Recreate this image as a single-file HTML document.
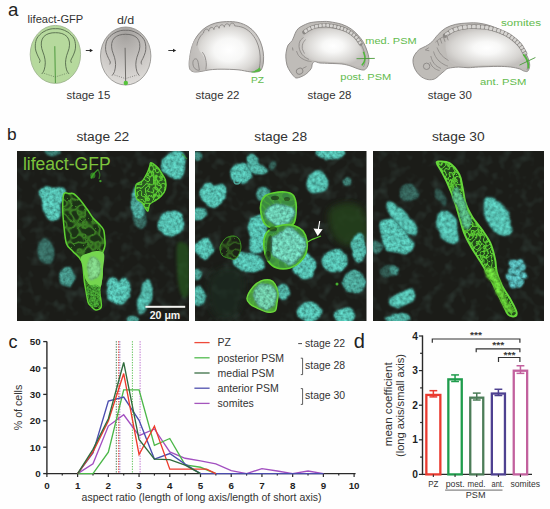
<!DOCTYPE html>
<html><head><meta charset="utf-8"><title>figure</title>
<style>html,body{margin:0;padding:0;background:#fefefe;width:550px;height:509px;overflow:hidden;font-family:"Liberation Sans", sans-serif;}svg{display:block;}</style>
</head><body>
<svg width="550" height="509" viewBox="0 0 550 509" font-family='"Liberation Sans", sans-serif'>
<defs>
<radialGradient id="gdd" cx="0.5" cy="0.12" r="0.95">
  <stop offset="0" stop-color="#a3a09d"/><stop offset="0.3" stop-color="#b8b5b2"/><stop offset="0.65" stop-color="#cfccc9"/><stop offset="1" stop-color="#e4e2df"/>
</radialGradient>
<radialGradient id="g22" cx="0.55" cy="0.5" r="0.55">
  <stop offset="0" stop-color="#ffffff"/><stop offset="0.35" stop-color="#f4f3f2"/><stop offset="1" stop-color="#c3c1bf"/>
</radialGradient>
<radialGradient id="g28" cx="0.55" cy="0.55" r="0.55">
  <stop offset="0" stop-color="#ffffff"/><stop offset="0.3" stop-color="#f2f1f0"/><stop offset="1" stop-color="#c6c4c2"/>
</radialGradient>
<filter id="bl1" x="-20%" y="-20%" width="140%" height="140%"><feGaussianBlur stdDeviation="0.7"/></filter>
<filter id="bl2" x="-20%" y="-20%" width="140%" height="140%"><feGaussianBlur stdDeviation="1.4"/></filter>
<filter id="bl3" x="-30%" y="-30%" width="160%" height="160%"><feGaussianBlur stdDeviation="3"/></filter>

<radialGradient id="y22" gradientUnits="userSpaceOnUse" cx="229" cy="50" r="37" gradientTransform="translate(229 50) scale(1 0.78) translate(-229 -50)">
  <stop offset="0" stop-color="#ffffff"/><stop offset="0.4" stop-color="#f7f7f6"/><stop offset="0.78" stop-color="#d9d7d4"/><stop offset="1" stop-color="#bdbab7"/>
</radialGradient>
<radialGradient id="y28" gradientUnits="userSpaceOnUse" cx="333" cy="46" r="34" gradientTransform="translate(333 46) scale(1 0.62) translate(-333 -46)">
  <stop offset="0" stop-color="#ffffff"/><stop offset="0.3" stop-color="#f8f8f7"/><stop offset="0.8" stop-color="#d6d4d1"/><stop offset="1" stop-color="#c3c0bd"/>
</radialGradient>
<radialGradient id="y30" gradientUnits="userSpaceOnUse" cx="487" cy="48" r="44" gradientTransform="translate(487 48) scale(1 0.48) translate(-487 -48)">
  <stop offset="0" stop-color="#ffffff"/><stop offset="0.3" stop-color="#f8f8f7"/><stop offset="0.8" stop-color="#d6d4d1"/><stop offset="1" stop-color="#c3c0bd"/>
</radialGradient>

<filter id="tex" x="-30%" y="-30%" width="160%" height="160%">
 <feTurbulence type="fractalNoise" baseFrequency="0.08" numOctaves="2" seed="3" result="w"/>
 <feDisplacementMap in="SourceGraphic" in2="w" scale="6" xChannelSelector="R" yChannelSelector="G" result="d"/>
 <feGaussianBlur in="d" stdDeviation="0.8" result="b"/>
 <feTurbulence type="fractalNoise" baseFrequency="0.3" numOctaves="2" seed="7" result="n"/>
 <feColorMatrix in="n" type="matrix" values="1 0 0 0 0  1 0 0 0 0  1 0 0 0 0  0 0 0 0 1" result="g"/>
 <feComposite in="b" in2="g" operator="arithmetic" k1="1.5" k2="0.22" k3="0" k4="0"/>
</filter>
<filter id="texg" x="-30%" y="-30%" width="160%" height="160%">
 <feTurbulence type="fractalNoise" baseFrequency="0.55" numOctaves="2" seed="11" result="n"/>
 <feColorMatrix in="n" type="matrix" values="2.2 0 0 0 -0.55  2.2 0 0 0 -0.55  2.2 0 0 0 -0.55  0 0 0 0 1" result="g"/>
 <feGaussianBlur in="SourceGraphic" stdDeviation="0.6" result="b"/>
 <feComposite in="b" in2="g" operator="arithmetic" k1="1.0" k2="0.25" k3="0" k4="0"/>
</filter>
<filter id="bgn" x="0" y="0" width="100%" height="100%">
 <feTurbulence type="fractalNoise" baseFrequency="0.09" numOctaves="2" seed="21" result="n"/>
 <feColorMatrix in="n" type="matrix" values="0 0 0 0 0.18  0 0 0 0 0.42  0 0 0 0 0.36  2.6 0 0 0 -1.25"/>
</filter>
<filter id="mesh" x="-10%" y="-10%" width="120%" height="120%">
 <feTurbulence type="turbulence" baseFrequency="0.14" numOctaves="1" seed="5" result="n"/>
 <feColorMatrix in="n" type="matrix" values="0 0 0 0 0  0 0 0 0 0  0 0 0 0 0  1 0 0 0 0" result="a"/>
 <feComponentTransfer in="a" result="v"><feFuncA type="table" tableValues="1 0.75 0.25 0 0 0 0 0 0 0 0 0"/></feComponentTransfer>
 <feFlood flood-color="#5ccc34" result="f"/>
 <feComposite in="f" in2="v" operator="in" result="fv"/>
 <feComposite in="fv" in2="SourceGraphic" operator="in" result="m"/>
 <feGaussianBlur in="m" stdDeviation="0.6"/>
</filter>
<filter id="mesh2" x="-10%" y="-10%" width="120%" height="120%">
 <feTurbulence type="turbulence" baseFrequency="0.26" numOctaves="1" seed="9" result="n"/>
 <feColorMatrix in="n" type="matrix" values="0 0 0 0 0  0 0 0 0 0  0 0 0 0 0  1 0 0 0 0" result="a"/>
 <feComponentTransfer in="a" result="v"><feFuncA type="table" tableValues="1 0.75 0.25 0 0 0 0 0 0 0 0 0"/></feComponentTransfer>
 <feFlood flood-color="#5ccc34" result="f"/>
 <feComposite in="f" in2="v" operator="in" result="fv"/>
 <feComposite in="fv" in2="SourceGraphic" operator="in" result="m"/>
 <feGaussianBlur in="m" stdDeviation="0.45"/>
</filter>
<clipPath id="cp0"><rect x="17" y="151" width="172" height="170"/></clipPath><clipPath id="cp1"><rect x="195" y="151" width="171.5" height="170"/></clipPath><clipPath id="cp2"><rect x="373" y="151" width="171" height="170"/></clipPath></defs>
<rect width="550" height="509" fill="#fefefe"/>
<text x="8.0" y="16.3" font-size="18.7" fill="#222" text-anchor="start" font-weight="normal" >a</text>
<text x="7.0" y="140.1" font-size="17.3" fill="#222" text-anchor="start" font-weight="normal" >b</text>
<text x="8.6" y="347.6" font-size="18" fill="#222" text-anchor="start" font-weight="normal" >c</text>
<text x="353.8" y="347.7" font-size="20" fill="#222" text-anchor="start" font-weight="normal" >d</text>
<ellipse cx="55.4" cy="54.4" rx="25.2" ry="29" fill="#b6d99d" stroke="#9ab08c" stroke-width="0.8"/>
<path d="M39.40,62.80 C39.50,62.40 40.18,61.38 40.00,60.40 C39.82,59.42 38.98,58.47 38.30,56.90 C37.62,55.33 36.40,52.97 35.90,51.00 C35.40,49.03 35.10,47.27 35.30,45.10 C35.50,42.93 35.82,40.17 37.10,38.00 C38.38,35.83 40.85,33.58 43.00,32.10 C45.15,30.62 47.93,29.67 50.00,29.10 C52.07,28.53 53.60,28.70 55.40,28.70 C57.20,28.70 58.73,28.53 60.80,29.10 C62.87,29.67 65.65,30.62 67.80,32.10 C69.95,33.58 72.42,35.83 73.70,38.00 C74.98,40.17 75.30,42.93 75.50,45.10 C75.70,47.27 75.40,49.03 74.90,51.00 C74.40,52.97 73.18,55.33 72.50,56.90 C71.82,58.47 70.98,59.42 70.80,60.40 C70.62,61.38 71.30,62.40 71.40,62.80" fill="none" stroke="#5a7050" stroke-width="0.95"/>
<path d="M41.80,74.00 C42.20,73.32 43.62,71.77 44.20,69.90 C44.78,68.03 45.30,65.17 45.30,62.80 C45.30,60.43 44.78,58.07 44.20,55.70 C43.62,53.33 42.27,50.88 41.80,48.60 C41.33,46.32 41.07,44.00 41.40,42.00 C41.73,40.00 42.53,38.02 43.80,36.60 C45.07,35.18 47.07,34.15 49.00,33.50 C50.93,32.85 53.27,32.70 55.40,32.70 C57.53,32.70 59.87,32.85 61.80,33.50 C63.73,34.15 65.73,35.18 67.00,36.60 C68.27,38.02 69.07,40.00 69.40,42.00 C69.73,44.00 69.47,46.32 69.00,48.60 C68.53,50.88 67.18,53.33 66.60,55.70 C66.02,58.07 65.50,60.43 65.50,62.80 C65.50,65.17 66.02,68.03 66.60,69.90 C67.18,71.77 68.60,73.32 69.00,74.00" fill="none" stroke="#5a7050" stroke-width="0.95"/>
<line x1="54.8" y1="46.2" x2="55.4" y2="83.0" stroke="#4e9a3e" stroke-width="1.0"/>
<polyline points="44.2,73.4 55.2,77.0 66.6,73.4" fill="none" stroke="#5a7050" stroke-width="0.7" stroke-dasharray="1 1.3"/>
<g>
<ellipse cx="125.7" cy="56.0" rx="25.2" ry="29" fill="url(#gdd)" stroke="#8d8b88" stroke-width="0.8"/>
<path d="M109.70,64.40 C109.80,64.00 110.48,62.98 110.30,62.00 C110.12,61.02 109.28,60.07 108.60,58.50 C107.92,56.93 106.70,54.57 106.20,52.60 C105.70,50.63 105.40,48.87 105.60,46.70 C105.80,44.53 106.12,41.77 107.40,39.60 C108.68,37.43 111.15,35.18 113.30,33.70 C115.45,32.22 118.23,31.27 120.30,30.70 C122.37,30.13 123.90,30.30 125.70,30.30 C127.50,30.30 129.03,30.13 131.10,30.70 C133.17,31.27 135.95,32.22 138.10,33.70 C140.25,35.18 142.72,37.43 144.00,39.60 C145.28,41.77 145.60,44.53 145.80,46.70 C146.00,48.87 145.70,50.63 145.20,52.60 C144.70,54.57 143.48,56.93 142.80,58.50 C142.12,60.07 141.28,61.02 141.10,62.00 C140.92,62.98 141.60,64.00 141.70,64.40" fill="none" stroke="#6e6c69" stroke-width="0.95"/>
<path d="M112.10,75.60 C112.50,74.92 113.92,73.37 114.50,71.50 C115.08,69.63 115.60,66.77 115.60,64.40 C115.60,62.03 115.08,59.67 114.50,57.30 C113.92,54.93 112.57,52.48 112.10,50.20 C111.63,47.92 111.37,45.60 111.70,43.60 C112.03,41.60 112.83,39.62 114.10,38.20 C115.37,36.78 117.37,35.75 119.30,35.10 C121.23,34.45 123.57,34.30 125.70,34.30 C127.83,34.30 130.17,34.45 132.10,35.10 C134.03,35.75 136.03,36.78 137.30,38.20 C138.57,39.62 139.37,41.60 139.70,43.60 C140.03,45.60 139.77,47.92 139.30,50.20 C138.83,52.48 137.48,54.93 136.90,57.30 C136.32,59.67 135.80,62.03 135.80,64.40 C135.80,66.77 136.32,69.63 136.90,71.50 C137.48,73.37 138.90,74.92 139.30,75.60" fill="none" stroke="#6e6c69" stroke-width="0.95"/>
<line x1="125.1" y1="47.800000000000004" x2="125.7" y2="84.6" stroke="#6e6c69" stroke-width="1.0"/>
<polyline points="114.5,75.0 125.5,78.6 136.9,75.0" fill="none" stroke="#6e6c69" stroke-width="0.7" stroke-dasharray="1 1.3"/>
</g>
<circle cx="125.8" cy="83" r="2.2" fill="#56c23c"/>
<line x1="85.8" y1="50.5" x2="90.5" y2="50.5" stroke="#222" stroke-width="0.9"/>
<path d="M93,50.5 L89.8,48.7 L89.8,52.3 Z" fill="#222"/>
<line x1="168.3" y1="50.5" x2="173.7" y2="50.5" stroke="#222" stroke-width="0.9"/>
<path d="M176.2,50.5 L173.0,48.7 L173.0,52.3 Z" fill="#222"/>
<path d="M190.20,69.80 C189.28,68.52 189.18,66.33 189.10,64.30 C189.02,62.27 189.33,60.18 189.70,57.60 C190.07,55.02 190.48,51.73 191.30,48.80 C192.12,45.87 193.13,42.75 194.60,40.00 C196.07,37.25 198.08,34.50 200.10,32.30 C202.12,30.10 204.13,28.35 206.70,26.80 C209.27,25.25 212.20,23.87 215.50,23.00 C218.80,22.13 222.75,21.70 226.50,21.60 C230.25,21.50 234.42,21.58 238.00,22.40 C241.58,23.22 245.08,24.68 248.00,26.50 C250.92,28.32 253.42,30.72 255.50,33.30 C257.58,35.88 259.22,38.88 260.50,42.00 C261.78,45.12 262.70,48.83 263.20,52.00 C263.70,55.17 263.65,58.42 263.50,61.00 C263.35,63.58 263.05,65.75 262.30,67.50 C261.55,69.25 261.05,70.78 259.00,71.50 C256.95,72.22 253.50,72.08 250.00,71.80 C246.50,71.52 242.83,70.23 238.00,69.80 C233.17,69.37 225.67,69.20 221.00,69.20 C216.33,69.20 213.30,69.43 210.00,69.80 C206.70,70.17 203.77,71.03 201.20,71.40 C198.63,71.77 196.43,72.27 194.60,72.00 C192.77,71.73 191.12,71.08 190.20,69.80 Z" fill="url(#y22)" stroke="#8a8784" stroke-width="0.9"/>
<path d="M191.3,48.8 C192,44 194,40 196.5,38 C197,43 197.8,47 199.5,51 C202.5,54 205,58 205.6,62 C206,66 206.2,68.7 206,70 C201,71.2 196,72 194.6,72 C191.5,71.4 190.2,69.8 189.1,64.3 C189,59 190,53 191.3,48.8 Z" fill="#c2bfbc" opacity="0.7" filter="url(#bl1)"/>
<path d="M196.80,45.50 C197.03,44.67 197.57,42.08 198.20,40.50 C198.83,38.92 199.72,37.25 200.60,36.00 C201.48,34.75 203.02,33.50 203.50,33.00" fill="none" stroke="#8a8784" stroke-width="0.9"/>
<path d="M203.5,33.0 C203.80,28.20 208.40,28.20 208.70,31.20 C209.00,26.50 213.60,26.50 213.90,29.60 C214.20,25.05 218.80,25.05 219.10,28.30 C219.40,23.85 224.00,23.85 224.30,27.20 C224.60,22.85 229.20,22.85 229.50,26.30 C229.80,22.15 234.40,22.15 234.70,25.80" fill="none" stroke="#8a8784" stroke-width="0.9"/>
<path d="M234.70,25.80 C236.08,26.08 240.37,26.38 243.00,27.50 C245.63,28.62 248.25,30.25 250.50,32.50 C252.75,34.75 254.98,37.92 256.50,41.00 C258.02,44.08 258.98,47.67 259.60,51.00 C260.22,54.33 260.30,57.92 260.20,61.00 C260.10,64.08 259.20,68.08 259.00,69.50" fill="none" stroke="#8a8784" stroke-width="0.9"/>
<path d="M202.30,52.10 C202.68,52.72 204.00,54.40 204.60,55.80 C205.20,57.20 205.62,58.97 205.90,60.50 C206.18,62.03 206.32,63.50 206.30,65.00 C206.28,66.50 205.88,68.75 205.80,69.50" fill="none" stroke="#8a8784" stroke-width="0.9"/>
<path d="M199.4,70.2 C196.5,70.6 193.2,68.3 192.9,63.6 C192.7,60 194.6,58.3 196.4,59 C198.2,59.8 198.3,64 199.4,70.2 Z" fill="none" stroke="#8a8784" stroke-width="0.9"/>
<path d="M251.5,71.7 Q256.8,70.6 259.7,67.2 L261.2,70.6 Q257.5,72.6 251.5,72.4 Z" fill="#58b844"/>
<path d="M297.00,78.00 C295.03,78.20 294.58,76.95 293.40,75.80 C292.22,74.65 290.97,72.87 289.90,71.10 C288.83,69.33 287.68,67.57 287.00,65.20 C286.32,62.83 285.90,59.27 285.80,56.90 C285.70,54.53 286.02,52.97 286.40,51.00 C286.78,49.03 287.12,46.87 288.10,45.10 C289.08,43.33 291.12,42.37 292.30,40.40 C293.48,38.43 294.22,35.27 295.20,33.30 C296.18,31.33 296.73,29.97 298.20,28.60 C299.67,27.23 301.85,26.12 304.00,25.10 C306.15,24.08 307.95,23.10 311.10,22.50 C314.25,21.90 319.75,21.62 322.90,21.50 C326.05,21.38 326.85,21.33 330.00,21.80 C333.15,22.27 338.27,23.10 341.80,24.30 C345.33,25.50 348.45,27.13 351.20,29.00 C353.95,30.87 356.23,33.23 358.30,35.50 C360.37,37.77 362.13,40.02 363.60,42.60 C365.07,45.18 366.22,48.42 367.10,51.00 C367.98,53.58 368.70,55.83 368.90,58.10 C369.10,60.37 368.88,62.73 368.30,64.60 C367.72,66.47 366.48,68.42 365.40,69.30 C364.32,70.18 363.38,70.10 361.80,69.90 C360.22,69.70 357.87,68.78 355.90,68.10 C353.93,67.42 352.35,66.48 350.00,65.80 C347.65,65.12 345.13,64.40 341.80,64.00 C338.47,63.60 333.63,63.57 330.00,63.40 C326.37,63.23 322.55,63.30 320.00,63.00 C317.45,62.70 315.98,61.43 314.70,61.60 C313.42,61.77 312.90,62.82 312.30,64.00 C311.70,65.18 312.28,66.93 311.10,68.70 C309.92,70.47 307.55,73.05 305.20,74.60 C302.85,76.15 298.97,77.80 297.00,78.00 Z" fill="#bfbcb8" stroke="#8a8784" stroke-width="0.9"/>
<path d="M301.50,39.00 C302.50,37.50 304.08,35.00 306.00,33.50 C307.92,32.00 310.17,30.82 313.00,30.00 C315.83,29.18 319.50,28.77 323.00,28.60 C326.50,28.43 330.33,28.43 334.00,29.00 C337.67,29.57 341.83,30.67 345.00,32.00 C348.17,33.33 350.83,35.17 353.00,37.00 C355.17,38.83 356.58,41.00 358.00,43.00 C359.42,45.00 360.50,46.83 361.50,49.00 C362.50,51.17 363.67,53.58 364.00,56.00 C364.33,58.42 364.50,61.78 363.50,63.50 C362.50,65.22 360.25,66.17 358.00,66.30 C355.75,66.43 352.83,64.92 350.00,64.30 C347.17,63.68 344.33,62.98 341.00,62.60 C337.67,62.22 333.83,62.22 330.00,62.00 C326.17,61.78 321.33,61.75 318.00,61.30 C314.67,60.85 312.42,60.35 310.00,59.30 C307.58,58.25 305.17,56.80 303.50,55.00 C301.83,53.20 300.58,50.58 300.00,48.50 C299.42,46.42 299.75,44.08 300.00,42.50 C300.25,40.92 300.50,40.50 301.50,39.00 Z" fill="url(#y28)" filter="url(#bl1)"/>
<path d="M304.20,32.20 C305.05,31.63 307.30,29.78 309.30,28.80 C311.30,27.82 313.35,26.88 316.20,26.30 C319.05,25.72 322.98,25.20 326.40,25.30 C329.82,25.40 333.28,26.05 336.70,26.90 C340.12,27.75 343.77,28.80 346.90,30.40 C350.03,32.00 353.22,34.32 355.50,36.50 C357.78,38.68 359.75,42.33 360.60,43.50" fill="none" stroke="#8a8784" stroke-width="4.2" stroke-linecap="round"/>
<rect x="304.17" y="29.52" width="3.30" height="3.00" rx="0.9" fill="#d6d4d1" transform="rotate(-36.3 305.82 31.02)"/>
<rect x="307.53" y="27.37" width="3.25" height="3.00" rx="0.9" fill="#d6d4d1" transform="rotate(-27.5 309.16 28.87)"/>
<rect x="311.14" y="25.78" width="3.20" height="3.00" rx="0.9" fill="#d6d4d1" transform="rotate(-20.3 312.74 27.28)"/>
<rect x="314.90" y="24.75" width="3.15" height="3.00" rx="0.9" fill="#d6d4d1" transform="rotate(-11.1 316.47 26.25)"/>
<rect x="318.70" y="24.14" width="3.10" height="3.00" rx="0.9" fill="#d6d4d1" transform="rotate(-6.6 320.25 25.64)"/>
<rect x="322.49" y="23.82" width="3.06" height="3.00" rx="0.9" fill="#d6d4d1" transform="rotate(-2.1 324.02 25.32)"/>
<rect x="326.25" y="23.87" width="3.01" height="3.00" rx="0.9" fill="#d6d4d1" transform="rotate(3.9 327.75 25.37)"/>
<rect x="329.93" y="24.30" width="2.96" height="3.00" rx="0.9" fill="#d6d4d1" transform="rotate(8.8 331.41 25.80)"/>
<rect x="333.53" y="24.99" width="2.92" height="3.00" rx="0.9" fill="#d6d4d1" transform="rotate(12.3 334.99 26.49)"/>
<rect x="337.04" y="25.86" width="2.87" height="3.00" rx="0.9" fill="#d6d4d1" transform="rotate(15.2 338.48 27.36)"/>
<rect x="340.47" y="26.86" width="2.83" height="3.00" rx="0.9" fill="#d6d4d1" transform="rotate(17.7 341.88 28.36)"/>
<rect x="343.77" y="28.09" width="2.79" height="3.00" rx="0.9" fill="#d6d4d1" transform="rotate(22.7 345.17 29.59)"/>
<rect x="346.89" y="29.64" width="2.74" height="3.00" rx="0.9" fill="#d6d4d1" transform="rotate(29.4 348.26 31.14)"/>
<rect x="349.80" y="31.47" width="2.70" height="3.00" rx="0.9" fill="#d6d4d1" transform="rotate(34.9 351.15 32.97)"/>
<rect x="352.51" y="33.52" width="2.66" height="3.00" rx="0.9" fill="#d6d4d1" transform="rotate(40.1 353.83 35.02)"/>
<rect x="354.96" y="35.80" width="2.61" height="3.00" rx="0.9" fill="#d6d4d1" transform="rotate(48.6 356.26 37.30)"/>
<rect x="356.98" y="38.41" width="2.57" height="3.00" rx="0.9" fill="#d6d4d1" transform="rotate(55.9 358.27 39.91)"/>
<rect x="358.77" y="41.14" width="2.53" height="3.00" rx="0.9" fill="#d6d4d1" transform="rotate(57.7 360.03 42.64)"/>
<path d="M360.60,43.50 C361.03,44.42 362.50,47.08 363.20,49.00 C363.90,50.92 364.50,52.83 364.80,55.00 C365.10,57.17 365.22,60.00 365.00,62.00 C364.78,64.00 363.75,66.17 363.50,67.00" fill="none" stroke="#8a8784" stroke-width="0.8"/>
<path d="M303.50,37.50 C302.92,38.08 300.75,39.50 300.00,41.00 C299.25,42.50 298.92,44.67 299.00,46.50 C299.08,48.33 299.67,50.33 300.50,52.00 C301.33,53.67 302.58,55.25 304.00,56.50 C305.42,57.75 308.17,59.00 309.00,59.50" fill="none" stroke="#8a8784" stroke-width="0.8"/>
<path d="M305.50,39.50 C305.05,40.17 303.33,42.00 302.80,43.50 C302.27,45.00 302.02,46.83 302.30,48.50 C302.58,50.17 304.13,52.67 304.50,53.50" fill="none" stroke="#8a8784" stroke-width="0.8"/>
<path d="M296.50,51.00 C296.83,51.75 297.58,54.25 298.50,55.50 C299.42,56.75 300.58,57.62 302.00,58.50 C303.42,59.38 305.42,60.30 307.00,60.80 C308.58,61.30 310.75,61.38 311.50,61.50" fill="none" stroke="#8a8784" stroke-width="0.8"/>
<ellipse cx="299.6" cy="71.2" rx="3.3" ry="2.9" fill="none" stroke="#8a8784" stroke-width="0.9" transform="rotate(-25 299.6 71.2)"/>
<path d="M302.5,68.5 L306.5,66.5" stroke="#8a8784" stroke-width="0.8"/>
<line x1="292.5" y1="47.5" x2="293" y2="50.5" stroke="#8a8784" stroke-width="0.9"/>
<path d="M363.40,51.80 C363.65,52.65 364.75,55.28 364.90,56.90 C365.05,58.52 364.82,60.08 364.30,61.50 C363.78,62.92 362.22,64.75 361.80,65.40" fill="none" stroke="#4fb83a" stroke-width="1.5"/>
<line x1="356.5" y1="58.7" x2="374.8" y2="58.4" stroke="#4a9a3a" stroke-width="0.9"/>
<path d="M468.00,23.00 C471.82,22.80 474.78,22.58 478.70,23.10 C482.62,23.62 487.25,24.65 491.50,26.10 C495.75,27.55 500.38,29.58 504.20,31.80 C508.02,34.02 511.43,36.65 514.40,39.40 C517.37,42.15 519.88,45.53 522.00,48.30 C524.12,51.07 525.83,53.42 527.10,56.00 C528.37,58.58 529.28,61.65 529.60,63.80 C529.92,65.95 529.42,67.62 529.00,68.90 C528.58,70.18 528.05,71.18 527.10,71.50 C526.15,71.82 524.57,71.23 523.30,70.80 C522.03,70.37 521.63,69.53 519.50,68.90 C517.37,68.27 514.12,67.42 510.50,67.00 C506.88,66.58 503.10,66.40 497.80,66.40 C492.50,66.40 483.67,66.78 478.70,67.00 C473.73,67.22 471.40,67.68 468.00,67.70 C464.60,67.72 461.58,67.00 458.30,67.10 C455.02,67.20 450.60,67.68 448.30,68.30 C446.00,68.92 445.98,69.65 444.50,70.80 C443.02,71.95 441.08,73.83 439.40,75.20 C437.72,76.57 436.28,78.27 434.40,79.00 C432.52,79.73 430.20,79.92 428.10,79.60 C426.00,79.28 423.68,78.35 421.80,77.10 C419.92,75.85 418.15,73.98 416.80,72.10 C415.45,70.22 414.33,67.90 413.70,65.80 C413.07,63.70 412.80,61.38 413.00,59.50 C413.20,57.62 413.85,56.18 414.90,54.50 C415.95,52.82 417.52,50.77 419.30,49.40 C421.08,48.03 423.50,47.55 425.60,46.30 C427.70,45.05 429.80,43.88 431.90,41.90 C434.00,39.92 435.90,36.70 438.20,34.40 C440.50,32.10 442.77,29.78 445.70,28.10 C448.63,26.42 452.08,25.15 455.80,24.30 C459.52,23.45 464.18,23.20 468.00,23.00 Z" fill="#bfbcb8" stroke="#8a8784" stroke-width="0.9"/>
<path d="M447.00,38.50 C448.42,36.42 450.83,34.03 454.00,32.50 C457.17,30.97 461.33,29.83 466.00,29.30 C470.67,28.77 476.83,28.77 482.00,29.30 C487.17,29.83 492.50,30.97 497.00,32.50 C501.50,34.03 505.58,36.25 509.00,38.50 C512.42,40.75 515.17,43.42 517.50,46.00 C519.83,48.58 521.58,51.67 523.00,54.00 C524.42,56.33 525.42,57.83 526.00,60.00 C526.58,62.17 527.50,65.75 526.50,67.00 C525.50,68.25 522.75,67.67 520.00,67.50 C517.25,67.33 513.83,66.37 510.00,66.00 C506.17,65.63 502.17,65.33 497.00,65.30 C491.83,65.27 484.17,65.62 479.00,65.80 C473.83,65.98 469.83,66.45 466.00,66.40 C462.17,66.35 458.83,66.40 456.00,65.50 C453.17,64.60 450.58,63.08 449.00,61.00 C447.42,58.92 447.08,55.67 446.50,53.00 C445.92,50.33 445.42,47.42 445.50,45.00 C445.58,42.58 445.58,40.58 447.00,38.50 Z" fill="url(#y30)" filter="url(#bl1)"/>
<path d="M445.20,35.50 C446.75,34.52 450.62,31.05 454.50,29.60 C458.38,28.15 463.45,27.18 468.50,26.80 C473.55,26.42 479.75,26.63 484.80,27.30 C489.85,27.97 494.53,29.25 498.80,30.80 C503.07,32.35 506.92,34.27 510.40,36.60 C513.88,38.93 517.27,41.98 519.70,44.80 C522.13,47.62 524.12,52.05 525.00,53.50" fill="none" stroke="#8a8784" stroke-width="4.6" stroke-linecap="round"/>
<rect x="445.07" y="32.32" width="4.30" height="3.40" rx="0.9" fill="#d6d4d1" transform="rotate(-37.1 447.22 34.02)"/>
<rect x="449.18" y="29.50" width="4.20" height="3.40" rx="0.9" fill="#d6d4d1" transform="rotate(-31.4 451.28 31.20)"/>
<rect x="453.63" y="27.49" width="4.11" height="3.40" rx="0.9" fill="#d6d4d1" transform="rotate(-17.7 455.68 29.19)"/>
<rect x="458.28" y="26.26" width="4.01" height="3.40" rx="0.9" fill="#d6d4d1" transform="rotate(-11.8 460.28 27.96)"/>
<rect x="462.92" y="25.48" width="3.92" height="3.40" rx="0.9" fill="#d6d4d1" transform="rotate(-7.1 464.88 27.18)"/>
<rect x="467.52" y="25.04" width="3.83" height="3.40" rx="0.9" fill="#d6d4d1" transform="rotate(-3.7 469.43 26.74)"/>
<rect x="472.04" y="24.91" width="3.74" height="3.40" rx="0.9" fill="#d6d4d1" transform="rotate(0.5 473.91 26.61)"/>
<rect x="476.48" y="25.03" width="3.65" height="3.40" rx="0.9" fill="#d6d4d1" transform="rotate(3.2 478.31 26.73)"/>
<rect x="480.82" y="25.35" width="3.57" height="3.40" rx="0.9" fill="#d6d4d1" transform="rotate(5.9 482.60 27.05)"/>
<rect x="485.05" y="25.90" width="3.48" height="3.40" rx="0.9" fill="#d6d4d1" transform="rotate(9.3 486.79 27.60)"/>
<rect x="489.15" y="26.71" width="3.40" height="3.40" rx="0.9" fill="#d6d4d1" transform="rotate(12.8 490.85 28.41)"/>
<rect x="493.12" y="27.77" width="3.32" height="3.40" rx="0.9" fill="#d6d4d1" transform="rotate(16.8 494.78 29.47)"/>
<rect x="496.94" y="29.01" width="3.24" height="3.40" rx="0.9" fill="#d6d4d1" transform="rotate(19.5 498.56 30.71)"/>
<rect x="500.60" y="30.45" width="3.17" height="3.40" rx="0.9" fill="#d6d4d1" transform="rotate(23.7 502.19 32.15)"/>
<rect x="504.10" y="32.09" width="3.09" height="3.40" rx="0.9" fill="#d6d4d1" transform="rotate(27.1 505.64 33.79)"/>
<rect x="507.40" y="33.94" width="3.02" height="3.40" rx="0.9" fill="#d6d4d1" transform="rotate(31.9 508.91 35.64)"/>
<rect x="510.48" y="36.00" width="2.94" height="3.40" rx="0.9" fill="#d6d4d1" transform="rotate(35.9 511.96 37.70)"/>
<rect x="513.34" y="38.24" width="2.87" height="3.40" rx="0.9" fill="#d6d4d1" transform="rotate(41.0 514.78 39.94)"/>
<rect x="515.98" y="40.63" width="2.80" height="3.40" rx="0.9" fill="#d6d4d1" transform="rotate(44.6 517.38 42.33)"/>
<rect x="518.38" y="43.16" width="2.73" height="3.40" rx="0.9" fill="#d6d4d1" transform="rotate(50.8 519.75 44.86)"/>
<rect x="520.40" y="45.92" width="2.66" height="3.40" rx="0.9" fill="#d6d4d1" transform="rotate(57.9 521.73 47.62)"/>
<rect x="522.09" y="48.81" width="2.60" height="3.40" rx="0.9" fill="#d6d4d1" transform="rotate(62.0 523.39 50.51)"/>
<rect x="523.67" y="51.69" width="2.53" height="3.40" rx="0.9" fill="#d6d4d1" transform="rotate(60.0 524.93 53.39)"/>
<path d="M525.00,53.50 C525.33,54.58 526.53,57.92 527.00,60.00 C527.47,62.08 527.80,64.33 527.80,66.00 C527.80,67.67 527.13,69.33 527.00,70.00" fill="none" stroke="#8a8784" stroke-width="0.8"/>
<path d="M435.50,42.20 C436.00,41.77 437.42,40.40 438.50,39.60 C439.58,38.80 440.75,38.07 442.00,37.40 C443.25,36.73 444.67,36.12 446.00,35.60 C447.33,35.08 449.33,34.52 450.00,34.30" fill="none" stroke="#8a8784" stroke-width="0.8"/>
<path d="M437.00,47.50 C437.42,48.33 438.42,50.92 439.50,52.50 C440.58,54.08 442.00,55.67 443.50,57.00 C445.00,58.33 447.67,59.92 448.50,60.50" fill="none" stroke="#8a8784" stroke-width="0.8"/>
<path d="M433.50,51.50 C433.83,52.33 434.58,54.92 435.50,56.50 C436.42,58.08 437.58,59.67 439.00,61.00 C440.42,62.33 442.50,63.63 444.00,64.50 C445.50,65.37 447.33,65.92 448.00,66.20" fill="none" stroke="#8a8784" stroke-width="0.8"/>
<path d="M430.80,56.00 C431.08,56.83 431.63,59.42 432.50,61.00 C433.37,62.58 434.58,64.23 436.00,65.50 C437.42,66.77 440.17,68.08 441.00,68.60" fill="none" stroke="#8a8784" stroke-width="0.8"/>
<path d="M430.00,62.00 C430.33,62.67 431.08,64.83 432.00,66.00 C432.92,67.17 434.25,68.23 435.50,69.00 C436.75,69.77 438.83,70.33 439.50,70.60" fill="none" stroke="#8a8784" stroke-width="0.8"/>
<line x1="437.2" y1="40.6" x2="438.8" y2="45.6" stroke="#8a8784" stroke-width="0.8"/>
<line x1="440.2" y1="38.5" x2="441.8" y2="43.5" stroke="#8a8784" stroke-width="0.8"/>
<line x1="443.4" y1="36.7" x2="445.0" y2="41.7" stroke="#8a8784" stroke-width="0.8"/>
<line x1="446.6" y1="35.3" x2="448.20000000000005" y2="40.3" stroke="#8a8784" stroke-width="0.8"/>
<circle cx="426.6" cy="66.3" r="3.2" fill="none" stroke="#8a8784" stroke-width="0.9"/>
<path d="M428.8,47.7 L425.3,49.9 L429.3,50.8" fill="none" stroke="#8a8784" stroke-width="0.8"/>
<path d="M523.30,54.30 C523.83,55.08 525.68,57.38 526.50,59.00 C527.32,60.62 527.90,62.42 528.20,64.00 C528.50,65.58 528.28,67.75 528.30,68.50" fill="none" stroke="#4fb83a" stroke-width="1.7"/>
<line x1="519.5" y1="65.1" x2="535.4" y2="57.5" stroke="#4a9a3a" stroke-width="0.9"/>
<text x="27.6" y="22.7" font-size="11.2" fill="#333" text-anchor="start" font-weight="normal" textLength="55.7" lengthAdjust="spacingAndGlyphs" >lifeact-GFP</text>
<text x="116.9" y="23.6" font-size="11.2" fill="#333" text-anchor="start" font-weight="normal" textLength="17.3" lengthAdjust="spacingAndGlyphs" >d/d</text>
<text x="66.5" y="98.6" font-size="10" fill="#333" text-anchor="start" font-weight="normal" textLength="43.8" lengthAdjust="spacingAndGlyphs" >stage 15</text>
<text x="195.5" y="98.6" font-size="10" fill="#333" text-anchor="start" font-weight="normal" textLength="44" lengthAdjust="spacingAndGlyphs" >stage 22</text>
<text x="307.5" y="98.6" font-size="10" fill="#333" text-anchor="start" font-weight="normal" textLength="44" lengthAdjust="spacingAndGlyphs" >stage 28</text>
<text x="427.8" y="98.8" font-size="10" fill="#333" text-anchor="start" font-weight="normal" textLength="44" lengthAdjust="spacingAndGlyphs" >stage 30</text>
<text x="251" y="82.7" font-size="9.7" fill="#62bb4c" text-anchor="start" font-weight="normal" textLength="13" lengthAdjust="spacingAndGlyphs" >PZ</text>
<text x="365.3" y="43.9" font-size="9.7" fill="#62bb4c" text-anchor="start" font-weight="normal" textLength="51.4" lengthAdjust="spacingAndGlyphs" >med. PSM</text>
<text x="340.3" y="80.1" font-size="9.7" fill="#62bb4c" text-anchor="start" font-weight="normal" textLength="50.9" lengthAdjust="spacingAndGlyphs" >post. PSM</text>
<text x="501" y="26.0" font-size="9.7" fill="#62bb4c" text-anchor="start" font-weight="normal" textLength="40" lengthAdjust="spacingAndGlyphs" >somites</text>
<text x="480" y="84.5" font-size="9.7" fill="#62bb4c" text-anchor="start" font-weight="normal" textLength="46.3" lengthAdjust="spacingAndGlyphs" >ant. PSM</text>
<text x="76.4" y="141.1" font-size="12.3" fill="#333" text-anchor="start" font-weight="normal" textLength="52.9" lengthAdjust="spacingAndGlyphs" >stage 22</text>
<text x="254.3" y="140.7" font-size="12.3" fill="#333" text-anchor="start" font-weight="normal" textLength="52.9" lengthAdjust="spacingAndGlyphs" >stage 28</text>
<text x="431.9" y="140.7" font-size="12.3" fill="#333" text-anchor="start" font-weight="normal" textLength="52.8" lengthAdjust="spacingAndGlyphs" >stage 30</text>
<rect x="17" y="151" width="172" height="170" fill="#1b1c18"/>
<rect x="17" y="151" width="172" height="170" fill="#000" opacity="0.16" filter="url(#bgn)"/>
<rect x="195" y="151" width="171.5" height="170" fill="#1b1c18"/>
<rect x="195" y="151" width="171.5" height="170" fill="#000" opacity="0.16" filter="url(#bgn)"/>
<rect x="373" y="151" width="171" height="170" fill="#1b1c18"/>
<rect x="373" y="151" width="171" height="170" fill="#000" opacity="0.16" filter="url(#bgn)"/>
<g clip-path="url(#cp0)">
<path d="M177.00,246.00 C178.00,239.67 182.00,242.17 184.00,243.00 C186.00,243.83 188.17,243.00 189.00,251.00 C189.83,259.00 190.00,283.33 189.00,291.00 C188.00,298.67 184.83,298.67 183.00,297.00 C181.17,295.33 179.00,289.50 178.00,281.00 C177.00,272.50 176.00,252.33 177.00,246.00 Z" fill="#2a6a20" opacity="0.55" filter="url(#bl2)"/>
<ellipse cx="52" cy="152" rx="7" ry="4" transform="rotate(0 52 152)" fill="#56c2b4" opacity="0.6" filter="url(#tex)"/>
<path d="M41.00,189.00 C42.58,187.67 47.00,187.25 50.00,187.00 C53.00,186.75 56.58,187.17 59.00,187.50 C61.42,187.83 63.83,187.42 64.50,189.00 C65.17,190.58 63.58,194.17 63.00,197.00 C62.42,199.83 61.67,203.17 61.00,206.00 C60.33,208.83 60.00,211.67 59.00,214.00 C58.00,216.33 56.67,219.08 55.00,220.00 C53.33,220.92 50.67,220.67 49.00,219.50 C47.33,218.33 46.17,215.75 45.00,213.00 C43.83,210.25 42.75,206.00 42.00,203.00 C41.25,200.00 40.67,197.33 40.50,195.00 C40.33,192.67 39.42,190.33 41.00,189.00 Z" fill="#56c2b4" opacity="1" filter="url(#tex)"/>
<path d="M164.00,157.00 C165.17,155.50 166.83,153.75 169.00,153.00 C171.17,152.25 174.67,152.17 177.00,152.50 C179.33,152.83 181.58,153.25 183.00,155.00 C184.42,156.75 185.17,160.33 185.50,163.00 C185.83,165.67 185.75,168.67 185.00,171.00 C184.25,173.33 182.83,175.67 181.00,177.00 C179.17,178.33 176.33,179.17 174.00,179.00 C171.67,178.83 168.83,177.67 167.00,176.00 C165.17,174.33 163.83,171.33 163.00,169.00 C162.17,166.67 161.83,164.00 162.00,162.00 C162.17,160.00 162.83,158.50 164.00,157.00 Z" fill="#56c2b4" opacity="1" filter="url(#tex)"/>
<path d="M161.00,216.00 C162.00,213.67 163.83,212.83 166.00,212.00 C168.17,211.17 171.67,210.67 174.00,211.00 C176.33,211.33 178.50,212.33 180.00,214.00 C181.50,215.67 182.67,218.50 183.00,221.00 C183.33,223.50 183.00,226.67 182.00,229.00 C181.00,231.33 179.17,233.75 177.00,235.00 C174.83,236.25 171.33,236.83 169.00,236.50 C166.67,236.17 164.50,234.75 163.00,233.00 C161.50,231.25 160.33,228.83 160.00,226.00 C159.67,223.17 160.00,218.33 161.00,216.00 Z" fill="#56c2b4" opacity="1" filter="url(#tex)"/>
<ellipse cx="139" cy="201" rx="7" ry="17" transform="rotate(0 139 201)" fill="#56c2b4" opacity="0.85" filter="url(#tex)"/>
<ellipse cx="140" cy="219" rx="6" ry="10" transform="rotate(0 140 219)" fill="#56c2b4" opacity="0.45" filter="url(#tex)"/>
<ellipse cx="46" cy="252" rx="8" ry="12.5" transform="rotate(-8 46 252)" fill="#56c2b4" opacity="0.5" filter="url(#tex)"/>
<ellipse cx="67" cy="277" rx="7.5" ry="9" transform="rotate(0 67 277)" fill="#56c2b4" opacity="0.75" filter="url(#tex)"/>
<path d="M109.00,281.00 C110.00,279.00 112.50,277.83 114.00,278.00 C115.50,278.17 116.83,282.00 118.00,282.00 C119.17,282.00 119.67,278.50 121.00,278.00 C122.33,277.50 124.67,277.67 126.00,279.00 C127.33,280.33 128.50,283.17 129.00,286.00 C129.50,288.83 129.83,293.17 129.00,296.00 C128.17,298.83 126.17,301.67 124.00,303.00 C121.83,304.33 118.33,304.67 116.00,304.00 C113.67,303.33 111.33,301.33 110.00,299.00 C108.67,296.67 108.17,293.00 108.00,290.00 C107.83,287.00 108.00,283.00 109.00,281.00 Z" fill="#56c2b4" opacity="1" filter="url(#tex)"/>
<ellipse cx="145" cy="297" rx="6" ry="17" transform="rotate(15 145 297)" fill="#56c2b4" opacity="0.95" filter="url(#tex)"/>
<ellipse cx="133" cy="319" rx="6" ry="4" transform="rotate(0 133 319)" fill="#56c2b4" opacity="0.8" filter="url(#tex)"/>
<path d="M63.90,193.90 C64.95,191.48 67.32,193.48 69.00,193.50 C70.68,193.52 72.00,192.75 74.00,194.00 C76.00,195.25 78.83,198.50 81.00,201.00 C83.17,203.50 85.00,206.17 87.00,209.00 C89.00,211.83 91.00,215.50 93.00,218.00 C95.00,220.50 97.25,222.05 99.00,224.00 C100.75,225.95 102.53,227.20 103.50,229.70 C104.47,232.20 104.58,236.23 104.80,239.00 C105.02,241.77 105.43,242.97 104.80,246.30 C104.17,249.63 101.43,254.32 101.00,259.00 C100.57,263.68 102.42,269.28 102.20,274.40 C101.98,279.52 99.90,285.27 99.70,289.70 C99.50,294.13 100.78,298.03 101.00,301.00 C101.22,303.97 101.87,306.00 101.00,307.50 C100.13,309.00 97.47,310.25 95.80,310.00 C94.13,309.75 92.27,307.27 91.00,306.00 C89.73,304.73 89.03,304.90 88.20,302.40 C87.37,299.90 86.63,294.40 86.00,291.00 C85.37,287.60 85.10,286.90 84.40,282.00 C83.70,277.10 83.72,266.70 81.80,261.60 C79.88,256.50 75.45,254.38 72.90,251.40 C70.35,248.42 68.00,247.97 66.50,243.70 C65.00,239.43 64.53,231.75 63.90,225.80 C63.27,219.85 62.70,213.32 62.70,208.00 C62.70,202.68 62.85,196.32 63.90,193.90 Z" fill="#1f3318" opacity="1.0" filter="url(#bl1)"/>
<path d="M63.90,193.90 C64.95,191.48 67.32,193.48 69.00,193.50 C70.68,193.52 72.00,192.75 74.00,194.00 C76.00,195.25 78.83,198.50 81.00,201.00 C83.17,203.50 85.00,206.17 87.00,209.00 C89.00,211.83 91.00,215.50 93.00,218.00 C95.00,220.50 97.25,222.05 99.00,224.00 C100.75,225.95 102.53,227.20 103.50,229.70 C104.47,232.20 104.58,236.23 104.80,239.00 C105.02,241.77 105.43,242.97 104.80,246.30 C104.17,249.63 101.43,254.32 101.00,259.00 C100.57,263.68 102.42,269.28 102.20,274.40 C101.98,279.52 99.90,285.27 99.70,289.70 C99.50,294.13 100.78,298.03 101.00,301.00 C101.22,303.97 101.87,306.00 101.00,307.50 C100.13,309.00 97.47,310.25 95.80,310.00 C94.13,309.75 92.27,307.27 91.00,306.00 C89.73,304.73 89.03,304.90 88.20,302.40 C87.37,299.90 86.63,294.40 86.00,291.00 C85.37,287.60 85.10,286.90 84.40,282.00 C83.70,277.10 83.72,266.70 81.80,261.60 C79.88,256.50 75.45,254.38 72.90,251.40 C70.35,248.42 68.00,247.97 66.50,243.70 C65.00,239.43 64.53,231.75 63.90,225.80 C63.27,219.85 62.70,213.32 62.70,208.00 C62.70,202.68 62.85,196.32 63.90,193.90 Z" fill="#fff" opacity="0.5" filter="url(#mesh)"/>
<path d="M63.90,193.90 C64.95,191.48 67.32,193.48 69.00,193.50 C70.68,193.52 72.00,192.75 74.00,194.00 C76.00,195.25 78.83,198.50 81.00,201.00 C83.17,203.50 85.00,206.17 87.00,209.00 C89.00,211.83 91.00,215.50 93.00,218.00 C95.00,220.50 97.25,222.05 99.00,224.00 C100.75,225.95 102.53,227.20 103.50,229.70 C104.47,232.20 104.58,236.23 104.80,239.00 C105.02,241.77 105.43,242.97 104.80,246.30 C104.17,249.63 101.43,254.32 101.00,259.00 C100.57,263.68 102.42,269.28 102.20,274.40 C101.98,279.52 99.90,285.27 99.70,289.70 C99.50,294.13 100.78,298.03 101.00,301.00 C101.22,303.97 101.87,306.00 101.00,307.50 C100.13,309.00 97.47,310.25 95.80,310.00 C94.13,309.75 92.27,307.27 91.00,306.00 C89.73,304.73 89.03,304.90 88.20,302.40 C87.37,299.90 86.63,294.40 86.00,291.00 C85.37,287.60 85.10,286.90 84.40,282.00 C83.70,277.10 83.72,266.70 81.80,261.60 C79.88,256.50 75.45,254.38 72.90,251.40 C70.35,248.42 68.00,247.97 66.50,243.70 C65.00,239.43 64.53,231.75 63.90,225.80 C63.27,219.85 62.70,213.32 62.70,208.00 C62.70,202.68 62.85,196.32 63.90,193.90 Z" fill="none" stroke="#5fd232" stroke-width="1.5" filter="url(#bl1)"/>
<path d="M81.00,257.00 C82.00,254.67 86.33,254.00 89.00,253.00 C91.67,252.00 94.50,250.83 97.00,251.00 C99.50,251.17 103.00,251.00 104.00,254.00 C105.00,257.00 103.33,264.50 103.00,269.00 C102.67,273.50 102.50,278.00 102.00,281.00 C101.50,284.00 101.83,286.17 100.00,287.00 C98.17,287.83 93.50,287.50 91.00,286.00 C88.50,284.50 86.33,281.17 85.00,278.00 C83.67,274.83 83.67,270.50 83.00,267.00 C82.33,263.50 80.00,259.33 81.00,257.00 Z" fill="#74d650" opacity="1" filter="url(#bl1)"/>
<ellipse cx="94" cy="268" rx="6.5" ry="11" transform="rotate(0 94 268)" fill="#8cd6b0" opacity="0.6" filter="url(#tex)"/>
<path d="M87.00,287.00 C88.83,285.00 96.83,283.67 99.00,286.00 C101.17,288.33 100.33,297.50 100.00,301.00 C99.67,304.50 98.50,306.17 97.00,307.00 C95.50,307.83 92.50,307.50 91.00,306.00 C89.50,304.50 88.67,301.17 88.00,298.00 C87.33,294.83 85.17,289.00 87.00,287.00 Z" fill="#4fb83a" opacity="0.8" filter="url(#texg)"/>
<path d="M150.50,162.70 C151.05,162.28 151.75,162.67 153.00,163.50 C154.25,164.33 156.62,166.17 158.00,167.70 C159.38,169.23 160.05,170.65 161.30,172.70 C162.55,174.75 164.80,177.23 165.50,180.00 C166.20,182.77 166.20,186.63 165.50,189.30 C164.80,191.97 163.10,194.05 161.30,196.00 C159.50,197.95 156.63,199.62 154.70,201.00 C152.77,202.38 150.82,202.63 149.70,204.30 C148.58,205.97 148.70,210.30 148.00,211.00 C147.30,211.70 146.47,209.88 145.50,208.50 C144.53,207.12 143.58,204.23 142.20,202.70 C140.82,201.17 138.32,200.97 137.20,199.30 C136.08,197.63 135.65,195.20 135.50,192.70 C135.35,190.20 135.18,186.25 136.30,184.30 C137.42,182.35 140.38,182.93 142.20,181.00 C144.02,179.07 145.95,175.20 147.20,172.70 C148.45,170.20 149.15,167.67 149.70,166.00 C150.25,164.33 149.95,163.12 150.50,162.70 Z" fill="#2a5a20" opacity="1.0" filter="url(#bl1)"/>
<path d="M150.50,162.70 C151.05,162.28 151.75,162.67 153.00,163.50 C154.25,164.33 156.62,166.17 158.00,167.70 C159.38,169.23 160.05,170.65 161.30,172.70 C162.55,174.75 164.80,177.23 165.50,180.00 C166.20,182.77 166.20,186.63 165.50,189.30 C164.80,191.97 163.10,194.05 161.30,196.00 C159.50,197.95 156.63,199.62 154.70,201.00 C152.77,202.38 150.82,202.63 149.70,204.30 C148.58,205.97 148.70,210.30 148.00,211.00 C147.30,211.70 146.47,209.88 145.50,208.50 C144.53,207.12 143.58,204.23 142.20,202.70 C140.82,201.17 138.32,200.97 137.20,199.30 C136.08,197.63 135.65,195.20 135.50,192.70 C135.35,190.20 135.18,186.25 136.30,184.30 C137.42,182.35 140.38,182.93 142.20,181.00 C144.02,179.07 145.95,175.20 147.20,172.70 C148.45,170.20 149.15,167.67 149.70,166.00 C150.25,164.33 149.95,163.12 150.50,162.70 Z" fill="#fff" opacity="1.0" filter="url(#mesh2)"/>
<path d="M150.50,162.70 C151.05,162.28 151.75,162.67 153.00,163.50 C154.25,164.33 156.62,166.17 158.00,167.70 C159.38,169.23 160.05,170.65 161.30,172.70 C162.55,174.75 164.80,177.23 165.50,180.00 C166.20,182.77 166.20,186.63 165.50,189.30 C164.80,191.97 163.10,194.05 161.30,196.00 C159.50,197.95 156.63,199.62 154.70,201.00 C152.77,202.38 150.82,202.63 149.70,204.30 C148.58,205.97 148.70,210.30 148.00,211.00 C147.30,211.70 146.47,209.88 145.50,208.50 C144.53,207.12 143.58,204.23 142.20,202.70 C140.82,201.17 138.32,200.97 137.20,199.30 C136.08,197.63 135.65,195.20 135.50,192.70 C135.35,190.20 135.18,186.25 136.30,184.30 C137.42,182.35 140.38,182.93 142.20,181.00 C144.02,179.07 145.95,175.20 147.20,172.70 C148.45,170.20 149.15,167.67 149.70,166.00 C150.25,164.33 149.95,163.12 150.50,162.70 Z" fill="none" stroke="#5fd232" stroke-width="1.3" filter="url(#bl1)"/>
<path d="M90.90,178.50 C91.42,177.67 92.78,175.00 94.00,173.50 C95.22,172.00 97.50,170.17 98.20,169.50" fill="none" stroke="#3fb02a" stroke-width="1.6" opacity="0.8" filter="url(#bl1)"/>
<path d="M98.20,169.50 C98.47,170.33 99.67,172.92 99.80,174.50 C99.93,176.08 99.13,178.25 99.00,179.00" fill="none" stroke="#3fb02a" stroke-width="1.3" opacity="0.55" filter="url(#bl1)"/>
<ellipse cx="92.8" cy="175.5" rx="2.6" ry="3" transform="rotate(0 92.8 175.5)" fill="#3fb02a" opacity="0.6" filter="url(#bl1)"/>
<ellipse cx="100.4" cy="181.1" rx="1.2" ry="1.2" transform="rotate(0 100.4 181.1)" fill="#4cc030" opacity="0.8" filter="url(#bl1)"/>
<path d="M182.00,154.00 C182.83,154.83 186.17,158.17 187.00,159.00" fill="none" stroke="#3cae2a" stroke-width="1.2" opacity="0.6" filter="url(#bl1)"/>
</g>
<text x="22.9" y="169.6" font-size="17.5" fill="#7cc43c" text-anchor="start" font-weight="normal" textLength="87.8" lengthAdjust="spacingAndGlyphs" >lifeact-GFP</text>
<rect x="145.4" y="305.8" width="39.8" height="2" fill="#f4f4f0"/>
<text x="149.7" y="318.8" font-size="11.2" fill="#f4f4f0" text-anchor="start" font-weight="bold" textLength="30.6" lengthAdjust="spacingAndGlyphs" >20 μm</text>
<g clip-path="url(#cp1)">
<path d="M329.00,211.00 C331.33,206.33 339.67,203.67 345.00,203.00 C350.33,202.33 357.33,204.00 361.00,207.00 C364.67,210.00 366.00,215.67 367.00,221.00 C368.00,226.33 369.00,234.83 367.00,239.00 C365.00,243.17 359.50,245.33 355.00,246.00 C350.50,246.67 344.00,245.50 340.00,243.00 C336.00,240.50 332.83,236.33 331.00,231.00 C329.17,225.67 326.67,215.67 329.00,211.00 Z" fill="#27461c" opacity="0.75" filter="url(#bl3)"/>
<path d="M215.00,271.00 C220.50,267.33 235.00,265.67 240.00,269.00 C245.00,272.33 245.83,283.17 245.00,291.00 C244.17,298.83 240.00,311.83 235.00,316.00 C230.00,320.17 219.67,320.17 215.00,316.00 C210.33,311.83 207.00,298.50 207.00,291.00 C207.00,283.50 209.50,274.67 215.00,271.00 Z" fill="#1f2f22" opacity="0.6" filter="url(#bl3)"/>
<ellipse cx="197" cy="156" rx="4" ry="4" transform="rotate(0 197 156)" fill="#56c2b4" opacity="0.7" filter="url(#tex)"/>
<ellipse cx="241.5" cy="173" rx="10" ry="10" transform="rotate(0 241.5 173)" fill="#56c2b4" opacity="1" filter="url(#tex)"/>
<ellipse cx="264" cy="194" rx="7" ry="7" transform="rotate(0 264 194)" fill="#56c2b4" opacity="0.8" filter="url(#tex)"/>
<ellipse cx="199" cy="214" rx="6" ry="7" transform="rotate(0 199 214)" fill="#56c2b4" opacity="0.9" filter="url(#tex)"/>
<ellipse cx="330" cy="153" rx="14" ry="7" transform="rotate(0 330 153)" fill="#56c2b4" opacity="1" filter="url(#tex)"/>
<ellipse cx="316.5" cy="183" rx="10.5" ry="11.5" transform="rotate(20 316.5 183)" fill="#56c2b4" opacity="1" filter="url(#tex)"/>
<ellipse cx="347.5" cy="181" rx="3.5" ry="4.5" transform="rotate(0 347.5 181)" fill="#56c2b4" opacity="0.6" filter="url(#tex)"/>
<ellipse cx="204.5" cy="248" rx="9" ry="9.5" transform="rotate(0 204.5 248)" fill="#56c2b4" opacity="1" filter="url(#tex)"/>
<ellipse cx="197" cy="275" rx="4" ry="5" transform="rotate(0 197 275)" fill="#56c2b4" opacity="0.8" filter="url(#tex)"/>
<ellipse cx="198" cy="296" rx="6" ry="10" transform="rotate(0 198 296)" fill="#56c2b4" opacity="0.9" filter="url(#tex)"/>
<ellipse cx="305" cy="266" rx="11" ry="13" transform="rotate(0 305 266)" fill="#56c2b4" opacity="1" filter="url(#tex)"/>
<ellipse cx="335" cy="261" rx="12" ry="12" transform="rotate(0 335 261)" fill="#56c2b4" opacity="1" filter="url(#tex)"/>
<ellipse cx="359" cy="248" rx="7" ry="14" transform="rotate(0 359 248)" fill="#56c2b4" opacity="0.95" filter="url(#tex)"/>
<ellipse cx="354" cy="282" rx="11" ry="11" transform="rotate(0 354 282)" fill="#56c2b4" opacity="0.85" filter="url(#tex)"/>
<ellipse cx="283" cy="292" rx="6" ry="8" transform="rotate(0 283 292)" fill="#56c2b4" opacity="0.9" filter="url(#tex)"/>
<ellipse cx="310" cy="312" rx="13" ry="10" transform="rotate(0 310 312)" fill="#56c2b4" opacity="1" filter="url(#tex)"/>
<ellipse cx="345" cy="316" rx="10" ry="8" transform="rotate(0 345 316)" fill="#56c2b4" opacity="1" filter="url(#tex)"/>
<ellipse cx="273" cy="165" rx="3" ry="4" transform="rotate(0 273 165)" fill="#56c2b4" opacity="0.4" filter="url(#tex)"/>
<path d="M248.00,156.00 C248.92,154.67 251.50,153.50 253.00,154.00 C254.50,154.50 256.00,157.17 257.00,159.00 C258.00,160.83 257.67,163.67 259.00,165.00 C260.33,166.33 263.58,166.00 265.00,167.00 C266.42,168.00 267.83,169.83 267.50,171.00 C267.17,172.17 265.08,173.67 263.00,174.00 C260.92,174.33 257.17,174.00 255.00,173.00 C252.83,172.00 251.25,169.83 250.00,168.00 C248.75,166.17 247.83,164.00 247.50,162.00 C247.17,160.00 247.08,157.33 248.00,156.00 Z" fill="#56c2b4" opacity="0.9" filter="url(#tex)"/>
<circle cx="237" cy="181" r="3" fill="none" stroke="#56c2b4" stroke-width="1.4" opacity="0.8"/>
<path d="M202.00,187.00 C203.17,185.00 205.83,184.17 208.00,184.00 C210.17,183.83 212.67,186.00 215.00,186.00 C217.33,186.00 220.17,183.50 222.00,184.00 C223.83,184.50 225.50,186.83 226.00,189.00 C226.50,191.17 225.83,194.67 225.00,197.00 C224.17,199.33 223.00,201.50 221.00,203.00 C219.00,204.50 215.83,205.83 213.00,206.00 C210.17,206.17 206.00,205.67 204.00,204.00 C202.00,202.33 201.33,198.83 201.00,196.00 C200.67,193.17 200.83,189.00 202.00,187.00 Z" fill="#56c2b4" opacity="1" filter="url(#tex)"/>
<path d="M250.00,219.00 C251.33,217.17 254.50,216.17 257.00,216.00 C259.50,215.83 263.17,216.33 265.00,218.00 C266.83,219.67 267.83,223.00 268.00,226.00 C268.17,229.00 266.50,232.67 266.00,236.00 C265.50,239.33 265.83,243.33 265.00,246.00 C264.17,248.67 263.00,250.83 261.00,252.00 C259.00,253.17 255.00,254.00 253.00,253.00 C251.00,252.00 249.33,248.83 249.00,246.00 C248.67,243.17 251.00,239.17 251.00,236.00 C251.00,232.83 249.17,229.83 249.00,227.00 C248.83,224.17 248.67,220.83 250.00,219.00 Z" fill="#56c2b4" opacity="1" filter="url(#tex)"/>
<path d="M234.00,255.00 C234.67,252.83 237.17,251.33 239.00,251.00 C240.83,250.67 243.17,252.50 245.00,253.00 C246.83,253.50 248.00,253.67 250.00,254.00 C252.00,254.33 254.83,254.17 257.00,255.00 C259.17,255.83 262.17,257.00 263.00,259.00 C263.83,261.00 263.33,265.00 262.00,267.00 C260.67,269.00 257.50,270.50 255.00,271.00 C252.50,271.50 249.50,270.33 247.00,270.00 C244.50,269.67 242.00,270.00 240.00,269.00 C238.00,268.00 236.00,266.33 235.00,264.00 C234.00,261.67 233.33,257.17 234.00,255.00 Z" fill="#56c2b4" opacity="1" filter="url(#tex)"/>
<path d="M261.00,203.00 C261.67,200.17 263.00,197.67 265.00,196.00 C267.00,194.33 269.67,193.67 273.00,193.00 C276.33,192.33 281.67,191.67 285.00,192.00 C288.33,192.33 291.17,193.17 293.00,195.00 C294.83,196.83 295.50,200.00 296.00,203.00 C296.50,206.00 296.33,209.67 296.00,213.00 C295.67,216.33 295.50,220.50 294.00,223.00 C292.50,225.50 290.17,227.00 287.00,228.00 C283.83,229.00 278.67,229.67 275.00,229.00 C271.33,228.33 267.33,226.67 265.00,224.00 C262.67,221.33 261.67,216.50 261.00,213.00 C260.33,209.50 260.33,205.83 261.00,203.00 Z" fill="#3a8a40" opacity="1.0" filter="url(#bl1)"/>
<path d="M261.00,203.00 C261.67,200.17 263.00,197.67 265.00,196.00 C267.00,194.33 269.67,193.67 273.00,193.00 C276.33,192.33 281.67,191.67 285.00,192.00 C288.33,192.33 291.17,193.17 293.00,195.00 C294.83,196.83 295.50,200.00 296.00,203.00 C296.50,206.00 296.33,209.67 296.00,213.00 C295.67,216.33 295.50,220.50 294.00,223.00 C292.50,225.50 290.17,227.00 287.00,228.00 C283.83,229.00 278.67,229.67 275.00,229.00 C271.33,228.33 267.33,226.67 265.00,224.00 C262.67,221.33 261.67,216.50 261.00,213.00 C260.33,209.50 260.33,205.83 261.00,203.00 Z" fill="#fff" opacity="0.35" filter="url(#mesh)"/>
<path d="M261.00,203.00 C261.67,200.17 263.00,197.67 265.00,196.00 C267.00,194.33 269.67,193.67 273.00,193.00 C276.33,192.33 281.67,191.67 285.00,192.00 C288.33,192.33 291.17,193.17 293.00,195.00 C294.83,196.83 295.50,200.00 296.00,203.00 C296.50,206.00 296.33,209.67 296.00,213.00 C295.67,216.33 295.50,220.50 294.00,223.00 C292.50,225.50 290.17,227.00 287.00,228.00 C283.83,229.00 278.67,229.67 275.00,229.00 C271.33,228.33 267.33,226.67 265.00,224.00 C262.67,221.33 261.67,216.50 261.00,213.00 C260.33,209.50 260.33,205.83 261.00,203.00 Z" fill="none" stroke="#5fd232" stroke-width="1.7" filter="url(#bl1)"/>
<ellipse cx="280" cy="214" rx="14" ry="10.5" transform="rotate(0 280 214)" fill="#6ccfb4" opacity="1" filter="url(#tex)"/>
<ellipse cx="275" cy="198" rx="4" ry="2.2" transform="rotate(0 275 198)" fill="#16200f" opacity="0.6" filter="url(#bl1)"/>
<ellipse cx="287" cy="199" rx="3" ry="2" transform="rotate(0 287 199)" fill="#16200f" opacity="0.5" filter="url(#bl1)"/>
<path d="M265.00,236.00 C266.17,232.83 268.00,230.83 271.00,229.00 C274.00,227.17 279.00,225.50 283.00,225.00 C287.00,224.50 291.67,225.00 295.00,226.00 C298.33,227.00 301.00,228.50 303.00,231.00 C305.00,233.50 306.50,237.33 307.00,241.00 C307.50,244.67 307.17,249.50 306.00,253.00 C304.83,256.50 302.67,259.50 300.00,262.00 C297.33,264.50 293.83,267.00 290.00,268.00 C286.17,269.00 280.67,269.17 277.00,268.00 C273.33,266.83 270.17,264.33 268.00,261.00 C265.83,257.67 264.50,252.17 264.00,248.00 C263.50,243.83 263.83,239.17 265.00,236.00 Z" fill="#3a8a40" opacity="1.0" filter="url(#bl1)"/>
<path d="M265.00,236.00 C266.17,232.83 268.00,230.83 271.00,229.00 C274.00,227.17 279.00,225.50 283.00,225.00 C287.00,224.50 291.67,225.00 295.00,226.00 C298.33,227.00 301.00,228.50 303.00,231.00 C305.00,233.50 306.50,237.33 307.00,241.00 C307.50,244.67 307.17,249.50 306.00,253.00 C304.83,256.50 302.67,259.50 300.00,262.00 C297.33,264.50 293.83,267.00 290.00,268.00 C286.17,269.00 280.67,269.17 277.00,268.00 C273.33,266.83 270.17,264.33 268.00,261.00 C265.83,257.67 264.50,252.17 264.00,248.00 C263.50,243.83 263.83,239.17 265.00,236.00 Z" fill="#fff" opacity="0.35" filter="url(#mesh)"/>
<path d="M265.00,236.00 C266.17,232.83 268.00,230.83 271.00,229.00 C274.00,227.17 279.00,225.50 283.00,225.00 C287.00,224.50 291.67,225.00 295.00,226.00 C298.33,227.00 301.00,228.50 303.00,231.00 C305.00,233.50 306.50,237.33 307.00,241.00 C307.50,244.67 307.17,249.50 306.00,253.00 C304.83,256.50 302.67,259.50 300.00,262.00 C297.33,264.50 293.83,267.00 290.00,268.00 C286.17,269.00 280.67,269.17 277.00,268.00 C273.33,266.83 270.17,264.33 268.00,261.00 C265.83,257.67 264.50,252.17 264.00,248.00 C263.50,243.83 263.83,239.17 265.00,236.00 Z" fill="none" stroke="#5fd232" stroke-width="1.7" filter="url(#bl1)"/>
<ellipse cx="288" cy="246" rx="17" ry="17.5" transform="rotate(0 288 246)" fill="#6ed0b6" opacity="1" filter="url(#tex)"/>
<ellipse cx="269.5" cy="246" rx="2.6" ry="11" transform="rotate(5 269.5 246)" fill="#16200f" opacity="0.55" filter="url(#bl1)"/>
<ellipse cx="273" cy="229" rx="4" ry="2.5" transform="rotate(0 273 229)" fill="#142010" opacity="0.55" filter="url(#bl1)"/>
<ellipse cx="268" cy="256" rx="3" ry="5" transform="rotate(0 268 256)" fill="#142010" opacity="0.5" filter="url(#bl1)"/>
<path d="M247.00,298.00 C247.50,295.17 250.67,289.83 253.00,287.00 C255.33,284.17 258.17,282.17 261.00,281.00 C263.83,279.83 267.67,279.50 270.00,280.00 C272.33,280.50 273.67,281.83 275.00,284.00 C276.33,286.17 277.67,289.83 278.00,293.00 C278.33,296.17 277.50,300.00 277.00,303.00 C276.50,306.00 276.67,309.50 275.00,311.00 C273.33,312.50 270.00,312.50 267.00,312.00 C264.00,311.50 259.83,309.33 257.00,308.00 C254.17,306.67 251.67,305.67 250.00,304.00 C248.33,302.33 246.50,300.83 247.00,298.00 Z" fill="#4a9a3a" opacity="1.0" filter="url(#bl1)"/>
<path d="M247.00,298.00 C247.50,295.17 250.67,289.83 253.00,287.00 C255.33,284.17 258.17,282.17 261.00,281.00 C263.83,279.83 267.67,279.50 270.00,280.00 C272.33,280.50 273.67,281.83 275.00,284.00 C276.33,286.17 277.67,289.83 278.00,293.00 C278.33,296.17 277.50,300.00 277.00,303.00 C276.50,306.00 276.67,309.50 275.00,311.00 C273.33,312.50 270.00,312.50 267.00,312.00 C264.00,311.50 259.83,309.33 257.00,308.00 C254.17,306.67 251.67,305.67 250.00,304.00 C248.33,302.33 246.50,300.83 247.00,298.00 Z" fill="#fff" opacity="0.35" filter="url(#mesh)"/>
<path d="M247.00,298.00 C247.50,295.17 250.67,289.83 253.00,287.00 C255.33,284.17 258.17,282.17 261.00,281.00 C263.83,279.83 267.67,279.50 270.00,280.00 C272.33,280.50 273.67,281.83 275.00,284.00 C276.33,286.17 277.67,289.83 278.00,293.00 C278.33,296.17 277.50,300.00 277.00,303.00 C276.50,306.00 276.67,309.50 275.00,311.00 C273.33,312.50 270.00,312.50 267.00,312.00 C264.00,311.50 259.83,309.33 257.00,308.00 C254.17,306.67 251.67,305.67 250.00,304.00 C248.33,302.33 246.50,300.83 247.00,298.00 Z" fill="none" stroke="#6ad83a" stroke-width="1.4" filter="url(#bl1)"/>
<ellipse cx="265.5" cy="296" rx="11" ry="12" transform="rotate(0 265.5 296)" fill="#72cfb0" opacity="0.95" filter="url(#tex)"/>
<path d="M220.00,247.00 C220.33,244.50 222.67,241.67 224.00,240.00 C225.33,238.33 226.33,237.67 228.00,237.00 C229.67,236.33 232.17,235.67 234.00,236.00 C235.83,236.33 237.83,237.17 239.00,239.00 C240.17,240.83 241.00,244.50 241.00,247.00 C241.00,249.50 240.00,252.00 239.00,254.00 C238.00,256.00 236.83,258.33 235.00,259.00 C233.17,259.67 230.17,258.67 228.00,258.00 C225.83,257.33 223.33,256.83 222.00,255.00 C220.67,253.17 219.67,249.50 220.00,247.00 Z" fill="#1d2418" opacity="1.0" filter="url(#bl1)"/>
<path d="M220.00,247.00 C220.33,244.50 222.67,241.67 224.00,240.00 C225.33,238.33 226.33,237.67 228.00,237.00 C229.67,236.33 232.17,235.67 234.00,236.00 C235.83,236.33 237.83,237.17 239.00,239.00 C240.17,240.83 241.00,244.50 241.00,247.00 C241.00,249.50 240.00,252.00 239.00,254.00 C238.00,256.00 236.83,258.33 235.00,259.00 C233.17,259.67 230.17,258.67 228.00,258.00 C225.83,257.33 223.33,256.83 222.00,255.00 C220.67,253.17 219.67,249.50 220.00,247.00 Z" fill="#fff" opacity="0.35" filter="url(#mesh)"/>
<path d="M220.00,247.00 C220.33,244.50 222.67,241.67 224.00,240.00 C225.33,238.33 226.33,237.67 228.00,237.00 C229.67,236.33 232.17,235.67 234.00,236.00 C235.83,236.33 237.83,237.17 239.00,239.00 C240.17,240.83 241.00,244.50 241.00,247.00 C241.00,249.50 240.00,252.00 239.00,254.00 C238.00,256.00 236.83,258.33 235.00,259.00 C233.17,259.67 230.17,258.67 228.00,258.00 C225.83,257.33 223.33,256.83 222.00,255.00 C220.67,253.17 219.67,249.50 220.00,247.00 Z" fill="none" stroke="#3f9f26" stroke-width="0.9" filter="url(#bl1)"/>
<path d="M306.00,243.00 C306.83,242.50 309.33,240.83 311.00,240.00 C312.67,239.17 314.33,238.67 316.00,238.00 C317.67,237.33 320.17,236.33 321.00,236.00" fill="none" stroke="#5fd232" stroke-width="1.1" opacity="1" filter="url(#bl1)"/>
<ellipse cx="337" cy="284" rx="1.5" ry="1.5" transform="rotate(0 337 284)" fill="#4cc030" opacity="0.9" filter="url(#bl1)"/>
<path d="M319.7,221 L318.4,229" stroke="#fff" stroke-width="1.1"/>
<path d="M313.5,228.5 L322.7,229.3 L317.7,236 Z" fill="#fff"/>
</g>
<g clip-path="url(#cp2)">
<ellipse cx="408.5" cy="192.5" rx="8.5" ry="8.5" transform="rotate(0 408.5 192.5)" fill="#56c2b4" opacity="0.42" filter="url(#tex)"/>
<ellipse cx="402" cy="218.8" rx="22" ry="6.8" transform="rotate(46 402 218.8)" fill="#56c2b4" opacity="1" filter="url(#tex)"/>
<ellipse cx="448" cy="228" rx="10" ry="17" transform="rotate(-25 448 228)" fill="#56c2b4" opacity="1" filter="url(#tex)"/>
<ellipse cx="497.5" cy="217" rx="11" ry="21.5" transform="rotate(-30 497.5 217)" fill="#56c2b4" opacity="1" filter="url(#tex)"/>
<ellipse cx="441" cy="197" rx="3.5" ry="9" transform="rotate(-25 441 197)" fill="#56c2b4" opacity="0.35" filter="url(#tex)"/>
<ellipse cx="377" cy="248" rx="5" ry="6" transform="rotate(0 377 248)" fill="#56c2b4" opacity="0.55" filter="url(#tex)"/>
<ellipse cx="389" cy="271" rx="9" ry="6" transform="rotate(0 389 271)" fill="#56c2b4" opacity="0.35" filter="url(#tex)"/>
<ellipse cx="394" cy="270" rx="4" ry="4" transform="rotate(0 394 270)" fill="#56c2b4" opacity="0.6" filter="url(#tex)"/>
<ellipse cx="402" cy="298.5" rx="13.5" ry="7" transform="rotate(-20 402 298.5)" fill="#56c2b4" opacity="1" filter="url(#tex)"/>
<ellipse cx="398" cy="319" rx="12" ry="5" transform="rotate(0 398 319)" fill="#56c2b4" opacity="0.9" filter="url(#tex)"/>
<path d="M381.30,223.00 C382.37,220.52 385.17,221.07 387.00,220.50 C388.83,219.93 390.63,219.18 392.30,219.60 C393.97,220.02 395.63,221.77 397.00,223.00 C398.37,224.23 399.00,225.50 400.50,227.00 C402.00,228.50 404.40,230.17 406.00,232.00 C407.60,233.83 408.93,235.37 410.10,238.00 C411.27,240.63 413.35,245.38 413.00,247.80 C412.65,250.22 410.08,251.58 408.00,252.50 C405.92,253.42 403.17,253.30 400.50,253.30 C397.83,253.30 394.28,252.97 392.00,252.50 C389.72,252.03 388.47,251.92 386.80,250.50 C385.13,249.08 383.03,246.52 382.00,244.00 C380.97,241.48 380.72,238.90 380.60,235.40 C380.48,231.90 380.23,225.48 381.30,223.00 Z" fill="#56c2b4" opacity="1" filter="url(#tex)"/>
<ellipse cx="514" cy="264" rx="4" ry="4" transform="rotate(0 514 264)" fill="#62cfcf" opacity="0.95" filter="url(#tex)"/>
<ellipse cx="519" cy="262" rx="3.5" ry="3.5" transform="rotate(0 519 262)" fill="#62cfcf" opacity="0.95" filter="url(#tex)"/>
<ellipse cx="523" cy="267" rx="3.5" ry="3.5" transform="rotate(0 523 267)" fill="#62cfcf" opacity="0.95" filter="url(#tex)"/>
<ellipse cx="512" cy="271" rx="3.5" ry="3.5" transform="rotate(0 512 271)" fill="#62cfcf" opacity="0.95" filter="url(#tex)"/>
<ellipse cx="518" cy="272" rx="4" ry="4" transform="rotate(0 518 272)" fill="#62cfcf" opacity="0.95" filter="url(#tex)"/>
<ellipse cx="523" cy="276" rx="3.5" ry="3.5" transform="rotate(0 523 276)" fill="#62cfcf" opacity="0.95" filter="url(#tex)"/>
<ellipse cx="510" cy="278" rx="3.5" ry="3.5" transform="rotate(0 510 278)" fill="#62cfcf" opacity="0.95" filter="url(#tex)"/>
<ellipse cx="516" cy="280" rx="4" ry="4" transform="rotate(0 516 280)" fill="#62cfcf" opacity="0.95" filter="url(#tex)"/>
<ellipse cx="520" cy="284" rx="3" ry="3" transform="rotate(0 520 284)" fill="#62cfcf" opacity="0.95" filter="url(#tex)"/>
<ellipse cx="513" cy="285" rx="3" ry="3" transform="rotate(0 513 285)" fill="#62cfcf" opacity="0.95" filter="url(#tex)"/>
<path d="M438.10,161.50 C440.15,161.33 445.97,160.93 449.50,163.10 C453.03,165.27 457.12,170.42 459.30,174.50 C461.48,178.58 461.52,182.70 462.60,187.60 C463.68,192.50 464.18,199.02 465.80,203.90 C467.42,208.78 469.58,212.57 472.30,216.90 C475.02,221.23 479.10,225.57 482.10,229.90 C485.10,234.23 488.13,238.02 490.30,242.90 C492.47,247.78 494.02,254.30 495.10,259.20 C496.18,264.10 495.70,267.95 496.80,272.30 C497.90,276.65 499.53,280.97 501.70,285.30 C503.87,289.63 507.37,293.95 509.80,298.30 C512.23,302.65 515.38,308.42 516.30,311.40 C517.22,314.38 516.65,315.67 515.30,316.20 C513.95,316.73 510.20,316.50 508.20,314.60 C506.20,312.70 505.20,308.60 503.30,304.80 C501.40,301.00 499.25,296.68 496.80,291.80 C494.35,286.92 491.58,280.93 488.60,275.50 C485.62,270.07 481.88,264.08 478.90,259.20 C475.92,254.32 473.15,250.53 470.70,246.20 C468.25,241.87 466.10,238.08 464.20,233.20 C462.30,228.32 460.93,222.33 459.30,216.90 C457.67,211.47 456.30,206.03 454.40,200.60 C452.50,195.17 450.07,189.18 447.90,184.30 C445.73,179.42 443.18,174.67 441.40,171.30 C439.62,167.93 437.75,165.73 437.20,164.10 C436.65,162.47 436.05,161.67 438.10,161.50 Z" fill="#24461c" opacity="1.0" filter="url(#bl1)"/>
<path d="M438.10,161.50 C440.15,161.33 445.97,160.93 449.50,163.10 C453.03,165.27 457.12,170.42 459.30,174.50 C461.48,178.58 461.52,182.70 462.60,187.60 C463.68,192.50 464.18,199.02 465.80,203.90 C467.42,208.78 469.58,212.57 472.30,216.90 C475.02,221.23 479.10,225.57 482.10,229.90 C485.10,234.23 488.13,238.02 490.30,242.90 C492.47,247.78 494.02,254.30 495.10,259.20 C496.18,264.10 495.70,267.95 496.80,272.30 C497.90,276.65 499.53,280.97 501.70,285.30 C503.87,289.63 507.37,293.95 509.80,298.30 C512.23,302.65 515.38,308.42 516.30,311.40 C517.22,314.38 516.65,315.67 515.30,316.20 C513.95,316.73 510.20,316.50 508.20,314.60 C506.20,312.70 505.20,308.60 503.30,304.80 C501.40,301.00 499.25,296.68 496.80,291.80 C494.35,286.92 491.58,280.93 488.60,275.50 C485.62,270.07 481.88,264.08 478.90,259.20 C475.92,254.32 473.15,250.53 470.70,246.20 C468.25,241.87 466.10,238.08 464.20,233.20 C462.30,228.32 460.93,222.33 459.30,216.90 C457.67,211.47 456.30,206.03 454.40,200.60 C452.50,195.17 450.07,189.18 447.90,184.30 C445.73,179.42 443.18,174.67 441.40,171.30 C439.62,167.93 437.75,165.73 437.20,164.10 C436.65,162.47 436.05,161.67 438.10,161.50 Z" fill="#fff" opacity="1.0" filter="url(#mesh2)"/>
<path d="M438.10,161.50 C440.15,161.33 445.97,160.93 449.50,163.10 C453.03,165.27 457.12,170.42 459.30,174.50 C461.48,178.58 461.52,182.70 462.60,187.60 C463.68,192.50 464.18,199.02 465.80,203.90 C467.42,208.78 469.58,212.57 472.30,216.90 C475.02,221.23 479.10,225.57 482.10,229.90 C485.10,234.23 488.13,238.02 490.30,242.90 C492.47,247.78 494.02,254.30 495.10,259.20 C496.18,264.10 495.70,267.95 496.80,272.30 C497.90,276.65 499.53,280.97 501.70,285.30 C503.87,289.63 507.37,293.95 509.80,298.30 C512.23,302.65 515.38,308.42 516.30,311.40 C517.22,314.38 516.65,315.67 515.30,316.20 C513.95,316.73 510.20,316.50 508.20,314.60 C506.20,312.70 505.20,308.60 503.30,304.80 C501.40,301.00 499.25,296.68 496.80,291.80 C494.35,286.92 491.58,280.93 488.60,275.50 C485.62,270.07 481.88,264.08 478.90,259.20 C475.92,254.32 473.15,250.53 470.70,246.20 C468.25,241.87 466.10,238.08 464.20,233.20 C462.30,228.32 460.93,222.33 459.30,216.90 C457.67,211.47 456.30,206.03 454.40,200.60 C452.50,195.17 450.07,189.18 447.90,184.30 C445.73,179.42 443.18,174.67 441.40,171.30 C439.62,167.93 437.75,165.73 437.20,164.10 C436.65,162.47 436.05,161.67 438.10,161.50 Z" fill="none" stroke="#66d83a" stroke-width="1.9" filter="url(#bl1)"/>
<path d="M453.00,189.00 C453.67,186.67 457.33,185.67 459.00,187.00 C460.67,188.33 461.83,193.33 463.00,197.00 C464.17,200.67 464.67,205.33 466.00,209.00 C467.33,212.67 470.50,216.00 471.00,219.00 C471.50,222.00 470.33,226.00 469.00,227.00 C467.67,228.00 464.67,227.33 463.00,225.00 C461.33,222.67 460.33,217.00 459.00,213.00 C457.67,209.00 456.00,205.00 455.00,201.00 C454.00,197.00 452.33,191.33 453.00,189.00 Z" fill="#5ec694" opacity="0.9" filter="url(#tex)"/>
<path d="M485.00,269.00 C485.67,267.00 490.00,265.67 492.00,267.00 C494.00,268.33 495.33,273.50 497.00,277.00 C498.67,280.50 500.00,284.00 502.00,288.00 C504.00,292.00 507.17,297.17 509.00,301.00 C510.83,304.83 513.17,309.17 513.00,311.00 C512.83,312.83 509.83,313.67 508.00,312.00 C506.17,310.33 504.17,304.83 502.00,301.00 C499.83,297.17 497.33,292.67 495.00,289.00 C492.67,285.33 489.67,282.33 488.00,279.00 C486.33,275.67 484.33,271.00 485.00,269.00 Z" fill="#6ad63a" opacity="1" filter="url(#tex)"/>
</g>
<line x1="46.9" y1="341.6" x2="46.9" y2="474.3" stroke="#2a2a2a" stroke-width="1.4"/>
<line x1="46.2" y1="473.6" x2="355.6" y2="473.6" stroke="#2a2a2a" stroke-width="1.4"/>
<line x1="43.2" y1="473.60" x2="46.9" y2="473.60" stroke="#2a2a2a" stroke-width="1.3"/>
<text x="40.6" y="477.1" font-size="9.8" fill="#1e1e1e" text-anchor="end" font-weight="bold" >0</text>
<line x1="43.2" y1="447.20" x2="46.9" y2="447.20" stroke="#2a2a2a" stroke-width="1.3"/>
<text x="40.6" y="450.7" font-size="9.8" fill="#1e1e1e" text-anchor="end" font-weight="bold" >10</text>
<line x1="43.2" y1="420.80" x2="46.9" y2="420.80" stroke="#2a2a2a" stroke-width="1.3"/>
<text x="40.6" y="424.3" font-size="9.8" fill="#1e1e1e" text-anchor="end" font-weight="bold" >20</text>
<line x1="43.2" y1="394.40" x2="46.9" y2="394.40" stroke="#2a2a2a" stroke-width="1.3"/>
<text x="40.6" y="397.9" font-size="9.8" fill="#1e1e1e" text-anchor="end" font-weight="bold" >30</text>
<line x1="43.2" y1="368.00" x2="46.9" y2="368.00" stroke="#2a2a2a" stroke-width="1.3"/>
<text x="40.6" y="371.5" font-size="9.8" fill="#1e1e1e" text-anchor="end" font-weight="bold" >40</text>
<line x1="43.2" y1="341.60" x2="46.9" y2="341.60" stroke="#2a2a2a" stroke-width="1.3"/>
<text x="40.6" y="345.1" font-size="9.8" fill="#1e1e1e" text-anchor="end" font-weight="bold" >50</text>
<line x1="46.90" y1="473.6" x2="46.90" y2="477.1" stroke="#2a2a2a" stroke-width="1.2"/>
<text x="46.9" y="488.6" font-size="9.8" fill="#1e1e1e" text-anchor="middle" font-weight="bold" >0</text>
<line x1="62.26" y1="473.6" x2="62.26" y2="475.6" stroke="#2a2a2a" stroke-width="1.2"/>
<line x1="77.62" y1="473.6" x2="77.62" y2="477.1" stroke="#2a2a2a" stroke-width="1.2"/>
<text x="77.62" y="488.6" font-size="9.8" fill="#1e1e1e" text-anchor="middle" font-weight="bold" >1</text>
<line x1="92.98" y1="473.6" x2="92.98" y2="475.6" stroke="#2a2a2a" stroke-width="1.2"/>
<line x1="108.34" y1="473.6" x2="108.34" y2="477.1" stroke="#2a2a2a" stroke-width="1.2"/>
<text x="108.34" y="488.6" font-size="9.8" fill="#1e1e1e" text-anchor="middle" font-weight="bold" >2</text>
<line x1="123.70" y1="473.6" x2="123.70" y2="475.6" stroke="#2a2a2a" stroke-width="1.2"/>
<line x1="139.06" y1="473.6" x2="139.06" y2="477.1" stroke="#2a2a2a" stroke-width="1.2"/>
<text x="139.06" y="488.6" font-size="9.8" fill="#1e1e1e" text-anchor="middle" font-weight="bold" >3</text>
<line x1="154.42" y1="473.6" x2="154.42" y2="475.6" stroke="#2a2a2a" stroke-width="1.2"/>
<line x1="169.78" y1="473.6" x2="169.78" y2="477.1" stroke="#2a2a2a" stroke-width="1.2"/>
<text x="169.78" y="488.6" font-size="9.8" fill="#1e1e1e" text-anchor="middle" font-weight="bold" >4</text>
<line x1="185.14" y1="473.6" x2="185.14" y2="475.6" stroke="#2a2a2a" stroke-width="1.2"/>
<line x1="200.50" y1="473.6" x2="200.50" y2="477.1" stroke="#2a2a2a" stroke-width="1.2"/>
<text x="200.5" y="488.6" font-size="9.8" fill="#1e1e1e" text-anchor="middle" font-weight="bold" >5</text>
<line x1="215.86" y1="473.6" x2="215.86" y2="475.6" stroke="#2a2a2a" stroke-width="1.2"/>
<line x1="231.22" y1="473.6" x2="231.22" y2="477.1" stroke="#2a2a2a" stroke-width="1.2"/>
<text x="231.22" y="488.6" font-size="9.8" fill="#1e1e1e" text-anchor="middle" font-weight="bold" >6</text>
<line x1="246.58" y1="473.6" x2="246.58" y2="475.6" stroke="#2a2a2a" stroke-width="1.2"/>
<line x1="261.94" y1="473.6" x2="261.94" y2="477.1" stroke="#2a2a2a" stroke-width="1.2"/>
<text x="261.94" y="488.6" font-size="9.8" fill="#1e1e1e" text-anchor="middle" font-weight="bold" >7</text>
<line x1="277.30" y1="473.6" x2="277.30" y2="475.6" stroke="#2a2a2a" stroke-width="1.2"/>
<line x1="292.66" y1="473.6" x2="292.66" y2="477.1" stroke="#2a2a2a" stroke-width="1.2"/>
<text x="292.66" y="488.6" font-size="9.8" fill="#1e1e1e" text-anchor="middle" font-weight="bold" >8</text>
<line x1="308.02" y1="473.6" x2="308.02" y2="475.6" stroke="#2a2a2a" stroke-width="1.2"/>
<line x1="323.38" y1="473.6" x2="323.38" y2="477.1" stroke="#2a2a2a" stroke-width="1.2"/>
<text x="323.38" y="488.6" font-size="9.8" fill="#1e1e1e" text-anchor="middle" font-weight="bold" >9</text>
<line x1="338.74" y1="473.6" x2="338.74" y2="475.6" stroke="#2a2a2a" stroke-width="1.2"/>
<line x1="354.10" y1="473.6" x2="354.10" y2="477.1" stroke="#2a2a2a" stroke-width="1.2"/>
<text x="354.1" y="488.6" font-size="9.8" fill="#1e1e1e" text-anchor="middle" font-weight="bold" >10</text>
<text x="81.6" y="500.5" font-size="10.5" fill="#333" text-anchor="start" font-weight="normal" textLength="240" lengthAdjust="spacingAndGlyphs" >aspect ratio (length of long axis/length of short axis)</text>
<text x="0" y="0" font-size="10.6" fill="#333" text-anchor="middle" textLength="45.5" lengthAdjust="spacingAndGlyphs" transform="translate(22.1 407.5) rotate(-90)">% of cells</text>
<line x1="116.3" y1="341.2" x2="116.3" y2="473" stroke="#2e6b3e" stroke-width="0.9" stroke-dasharray="1.3 1.3"/>
<line x1="118.5" y1="341.2" x2="118.5" y2="473" stroke="#ee4a3a" stroke-width="0.9" stroke-dasharray="1.3 1.3"/>
<line x1="119.8" y1="341.2" x2="119.8" y2="473" stroke="#7a4aa8" stroke-width="0.9" stroke-dasharray="1.3 1.3"/>
<line x1="132.4" y1="341.2" x2="132.4" y2="473" stroke="#4cbb44" stroke-width="0.9" stroke-dasharray="1.3 1.3"/>
<line x1="140.1" y1="341.2" x2="140.1" y2="473" stroke="#b35cc8" stroke-width="0.9" stroke-dasharray="1.3 1.3"/>
<polyline points="77.62,473.60 92.98,463.83 108.34,426.08 123.70,414.73 139.06,435.58 154.42,428.98 169.78,451.95 185.14,458.29 200.50,460.93 215.86,463.83 231.22,470.70 246.58,473.60 261.94,468.58 277.30,470.96 292.66,473.60 308.02,470.96 323.38,473.60" fill="none" stroke="#a24fc0" stroke-width="1.35" stroke-linejoin="miter"/>
<polyline points="77.62,473.60 92.98,473.60 108.34,452.22 123.70,389.91 139.06,389.91 154.42,445.35 169.78,438.49 185.14,464.89 200.50,467.26 215.86,473.60" fill="none" stroke="#4bb748" stroke-width="1.35" stroke-linejoin="miter"/>
<polyline points="77.62,473.60 92.98,453.01 108.34,401.00 123.70,397.04 139.06,420.27 154.42,459.08 169.78,453.54 185.14,464.10 200.50,473.60 323.38,473.60" fill="none" stroke="#4a4cae" stroke-width="1.35" stroke-linejoin="miter"/>
<polyline points="77.62,473.60 92.98,451.95 108.34,421.06 123.70,373.54 139.06,454.59 154.42,426.08 169.78,469.11 206.64,469.11 215.86,473.60" fill="none" stroke="#ee3b2c" stroke-width="1.35" stroke-linejoin="miter"/>
<polyline points="77.62,473.60 92.98,449.31 108.34,418.69 123.70,362.46 139.06,439.54 154.42,459.08 169.78,459.61 185.14,465.15 200.50,473.60" fill="none" stroke="#2f6b3c" stroke-width="1.35" stroke-linejoin="miter"/>
<line x1="194.4" y1="342.60" x2="209.6" y2="342.60" stroke="#ee4a3a" stroke-width="1.3"/>
<text x="217.6" y="346.4" font-size="10.5" fill="#333" text-anchor="start" font-weight="normal" >PZ</text>
<line x1="194.4" y1="357.80" x2="209.6" y2="357.80" stroke="#52bb4e" stroke-width="1.3"/>
<text x="217.6" y="361.6" font-size="10.5" fill="#333" text-anchor="start" font-weight="normal" >posterior PSM</text>
<line x1="194.4" y1="373.00" x2="209.6" y2="373.00" stroke="#3a6e45" stroke-width="1.3"/>
<text x="217.6" y="376.8" font-size="10.5" fill="#333" text-anchor="start" font-weight="normal" >medial PSM</text>
<line x1="194.4" y1="388.20" x2="209.6" y2="388.20" stroke="#4f50ae" stroke-width="1.3"/>
<text x="217.6" y="392.0" font-size="10.5" fill="#333" text-anchor="start" font-weight="normal" >anterior PSM</text>
<line x1="194.4" y1="403.40" x2="209.6" y2="403.40" stroke="#a455bc" stroke-width="1.3"/>
<text x="217.6" y="407.2" font-size="10.5" fill="#333" text-anchor="start" font-weight="normal" >somites</text>
<line x1="298.2" y1="343.6" x2="302" y2="343.6" stroke="#333" stroke-width="0.9"/>
<text x="305" y="346.9" font-size="10.5" fill="#333" text-anchor="start" font-weight="normal" textLength="40.1" lengthAdjust="spacingAndGlyphs" >stage 22</text>
<polyline points="300.8,358.2 302.6,358.2 302.6,374.6 300.8,374.6" fill="none" stroke="#333" stroke-width="0.8"/>
<text x="305" y="369.2" font-size="10.5" fill="#333" text-anchor="start" font-weight="normal" textLength="40.1" lengthAdjust="spacingAndGlyphs" >stage 28</text>
<polyline points="300.8,388.6 302.6,388.6 302.6,404.4 300.8,404.4" fill="none" stroke="#333" stroke-width="0.8"/>
<text x="305" y="399.2" font-size="10.5" fill="#333" text-anchor="start" font-weight="normal" textLength="40.1" lengthAdjust="spacingAndGlyphs" >stage 30</text>
<line x1="422.5" y1="335.4" x2="422.5" y2="475.1" stroke="#2a2a2a" stroke-width="1.4"/>
<line x1="421.8" y1="474.4" x2="532" y2="474.4" stroke="#2a2a2a" stroke-width="1.4"/>
<line x1="418.9" y1="474.40" x2="422.5" y2="474.40" stroke="#2a2a2a" stroke-width="1.2"/>
<text x="418.0" y="478.0" font-size="10.2" fill="#1e1e1e" text-anchor="end" font-weight="bold" >0</text>
<line x1="420.1" y1="457.10" x2="422.5" y2="457.10" stroke="#2a2a2a" stroke-width="1.2"/>
<line x1="418.9" y1="439.80" x2="422.5" y2="439.80" stroke="#2a2a2a" stroke-width="1.2"/>
<text x="418.0" y="443.4" font-size="10.2" fill="#1e1e1e" text-anchor="end" font-weight="bold" >1</text>
<line x1="420.1" y1="422.50" x2="422.5" y2="422.50" stroke="#2a2a2a" stroke-width="1.2"/>
<line x1="418.9" y1="405.20" x2="422.5" y2="405.20" stroke="#2a2a2a" stroke-width="1.2"/>
<text x="418.0" y="408.8" font-size="10.2" fill="#1e1e1e" text-anchor="end" font-weight="bold" >2</text>
<line x1="420.1" y1="387.90" x2="422.5" y2="387.90" stroke="#2a2a2a" stroke-width="1.2"/>
<line x1="418.9" y1="370.60" x2="422.5" y2="370.60" stroke="#2a2a2a" stroke-width="1.2"/>
<text x="418.0" y="374.2" font-size="10.2" fill="#1e1e1e" text-anchor="end" font-weight="bold" >3</text>
<line x1="420.1" y1="353.30" x2="422.5" y2="353.30" stroke="#2a2a2a" stroke-width="1.2"/>
<line x1="418.9" y1="336.00" x2="422.5" y2="336.00" stroke="#2a2a2a" stroke-width="1.2"/>
<text x="418.0" y="339.6" font-size="10.2" fill="#1e1e1e" text-anchor="end" font-weight="bold" >4</text>
<rect x="426.35" y="394.93" width="14.00" height="79.47" fill="#fff" stroke="#ea3a2f" stroke-width="2.3"/>
<line x1="433.35" y1="390.67" x2="433.35" y2="396.90" stroke="#ea3a2f" stroke-width="1.5"/>
<line x1="429.45" y1="390.67" x2="437.25" y2="390.67" stroke="#ea3a2f" stroke-width="1.5"/>
<line x1="429.45" y1="396.90" x2="437.25" y2="396.90" stroke="#ea3a2f" stroke-width="1.5"/>
<line x1="433.35" y1="474.4" x2="433.35" y2="477" stroke="#2a2a2a" stroke-width="1.1"/>
<rect x="448.35" y="379.36" width="13.40" height="95.04" fill="#fff" stroke="#1f9c4c" stroke-width="2.3"/>
<line x1="455.05" y1="374.92" x2="455.05" y2="381.50" stroke="#1f9c4c" stroke-width="1.5"/>
<line x1="451.15" y1="374.92" x2="458.95" y2="374.92" stroke="#1f9c4c" stroke-width="1.5"/>
<line x1="451.15" y1="381.50" x2="458.95" y2="381.50" stroke="#1f9c4c" stroke-width="1.5"/>
<line x1="455.05" y1="474.4" x2="455.05" y2="477" stroke="#2a2a2a" stroke-width="1.1"/>
<rect x="470.25" y="397.70" width="13.00" height="76.70" fill="#fff" stroke="#4c7d58" stroke-width="2.3"/>
<line x1="476.75" y1="393.09" x2="476.75" y2="400.01" stroke="#4c7d58" stroke-width="1.5"/>
<line x1="472.85" y1="393.09" x2="480.65" y2="393.09" stroke="#4c7d58" stroke-width="1.5"/>
<line x1="472.85" y1="400.01" x2="480.65" y2="400.01" stroke="#4c7d58" stroke-width="1.5"/>
<line x1="476.75" y1="474.4" x2="476.75" y2="477" stroke="#2a2a2a" stroke-width="1.1"/>
<rect x="491.85" y="393.55" width="13.10" height="80.85" fill="#fff" stroke="#4e4191" stroke-width="2.3"/>
<line x1="498.40" y1="389.28" x2="498.40" y2="395.51" stroke="#4e4191" stroke-width="1.5"/>
<line x1="494.50" y1="389.28" x2="502.30" y2="389.28" stroke="#4e4191" stroke-width="1.5"/>
<line x1="494.50" y1="395.51" x2="502.30" y2="395.51" stroke="#4e4191" stroke-width="1.5"/>
<line x1="498.40" y1="474.4" x2="498.40" y2="477" stroke="#2a2a2a" stroke-width="1.1"/>
<rect x="513.75" y="370.71" width="13.40" height="103.69" fill="#fff" stroke="#c2619e" stroke-width="2.3"/>
<line x1="520.45" y1="365.76" x2="520.45" y2="373.37" stroke="#c2619e" stroke-width="1.5"/>
<line x1="516.55" y1="365.76" x2="524.35" y2="365.76" stroke="#c2619e" stroke-width="1.5"/>
<line x1="516.55" y1="373.37" x2="524.35" y2="373.37" stroke="#c2619e" stroke-width="1.5"/>
<line x1="520.45" y1="474.4" x2="520.45" y2="477" stroke="#2a2a2a" stroke-width="1.1"/>
<polyline points="432.3,342.8 432.3,339.0 519.9,339.0 519.9,342.8" fill="none" stroke="#333" stroke-width="1.2"/>
<text x="475.9" y="338.0" font-size="9" fill="#3a3a3a" text-anchor="middle" font-weight="bold" textLength="12" lengthAdjust="spacingAndGlyphs" >***</text>
<polyline points="476.2,352.3 476.2,348.9 519.9,348.9 519.9,352.3" fill="none" stroke="#333" stroke-width="1.2"/>
<text x="498.2" y="348.3" font-size="9" fill="#3a3a3a" text-anchor="middle" font-weight="bold" textLength="12" lengthAdjust="spacingAndGlyphs" >***</text>
<polyline points="498.5,361.9 498.5,357.5 519.9,357.5 519.9,361.9" fill="none" stroke="#333" stroke-width="1.2"/>
<text x="509.5" y="357.6" font-size="9" fill="#3a3a3a" text-anchor="middle" font-weight="bold" textLength="12" lengthAdjust="spacingAndGlyphs" >***</text>
<text x="428.3" y="487.0" font-size="8.8" fill="#333" text-anchor="start" font-weight="normal" textLength="10.2" lengthAdjust="spacingAndGlyphs" >PZ</text>
<text x="445.7" y="487.0" font-size="8.8" fill="#333" text-anchor="start" font-weight="normal" textLength="19.0" lengthAdjust="spacingAndGlyphs" >post.</text>
<text x="467.6" y="487.0" font-size="8.8" fill="#333" text-anchor="start" font-weight="normal" textLength="17.9" lengthAdjust="spacingAndGlyphs" >med.</text>
<text x="491.6" y="487.0" font-size="8.8" fill="#333" text-anchor="start" font-weight="normal" textLength="12.4" lengthAdjust="spacingAndGlyphs" >ant.</text>
<text x="510.5" y="487.0" font-size="8.8" fill="#333" text-anchor="start" font-weight="normal" textLength="29.5" lengthAdjust="spacingAndGlyphs" >somites</text>
<line x1="445.1" y1="490.1" x2="502.5" y2="490.1" stroke="#444" stroke-width="0.8"/>
<text x="465.8" y="498.4" font-size="9.1" fill="#333" text-anchor="start" font-weight="normal" textLength="19.7" lengthAdjust="spacingAndGlyphs" >PSM</text>
<text font-size="11.5" fill="#333" text-anchor="middle" textLength="83.8" lengthAdjust="spacingAndGlyphs" transform="translate(392.2 404.3) rotate(-90)">mean coefficient</text>
<text font-size="11.1" fill="#333" text-anchor="middle" textLength="103" lengthAdjust="spacingAndGlyphs" transform="translate(404.0 405.5) rotate(-90)">(long axis/small axis)</text>
</svg>
</body></html>
